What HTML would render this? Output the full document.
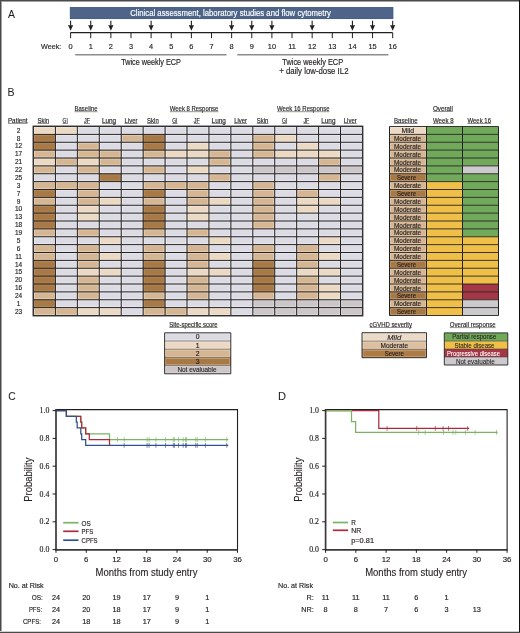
<!DOCTYPE html>
<html><head><meta charset="utf-8"><style>
html,body{margin:0;padding:0;background:#fff;}
body{width:520px;height:633px;overflow:hidden;}
svg{display:block;will-change:transform;}
text{font-family:"Liberation Sans", sans-serif;}
</style></head><body>
<svg width="520" height="633" viewBox="0 0 520 633" font-family='"Liberation Sans", sans-serif'>
<rect x="0" y="0" width="520" height="633" fill="#ffffff"/>
<text x="8.00" y="18.10" font-size="11.6" fill="#231f20" stroke="#231f20" stroke-width="0.05" textLength="7.00" lengthAdjust="spacingAndGlyphs" >A</text>
<rect x="70.30" y="7.60" width="322.60" height="11.00" fill="#4e6589" stroke="#3a5480" stroke-width="0.9" />
<text x="130.20" y="15.90" font-size="8.4" fill="#ffffff" stroke="#ffffff" stroke-width="0.16" textLength="200.80" lengthAdjust="spacingAndGlyphs" >Clinical assessment, laboratory studies and flow cytometry</text>
<line x1="70.50" y1="32.60" x2="392.60" y2="32.60" stroke="#231f20" stroke-width="1.3" />
<line x1="70.60" y1="32.60" x2="70.60" y2="38.20" stroke="#231f20" stroke-width="1.0" />
<line x1="90.73" y1="32.60" x2="90.73" y2="38.20" stroke="#231f20" stroke-width="1.0" />
<line x1="110.86" y1="32.60" x2="110.86" y2="38.20" stroke="#231f20" stroke-width="1.0" />
<line x1="130.99" y1="32.60" x2="130.99" y2="38.20" stroke="#231f20" stroke-width="1.0" />
<line x1="151.12" y1="32.60" x2="151.12" y2="38.20" stroke="#231f20" stroke-width="1.0" />
<line x1="171.25" y1="32.60" x2="171.25" y2="38.20" stroke="#231f20" stroke-width="1.0" />
<line x1="191.38" y1="32.60" x2="191.38" y2="38.20" stroke="#231f20" stroke-width="1.0" />
<line x1="211.51" y1="32.60" x2="211.51" y2="38.20" stroke="#231f20" stroke-width="1.0" />
<line x1="231.64" y1="32.60" x2="231.64" y2="38.20" stroke="#231f20" stroke-width="1.0" />
<line x1="251.77" y1="32.60" x2="251.77" y2="38.20" stroke="#231f20" stroke-width="1.0" />
<line x1="271.90" y1="32.60" x2="271.90" y2="38.20" stroke="#231f20" stroke-width="1.0" />
<line x1="292.03" y1="32.60" x2="292.03" y2="38.20" stroke="#231f20" stroke-width="1.0" />
<line x1="312.16" y1="32.60" x2="312.16" y2="38.20" stroke="#231f20" stroke-width="1.0" />
<line x1="332.29" y1="32.60" x2="332.29" y2="38.20" stroke="#231f20" stroke-width="1.0" />
<line x1="352.42" y1="32.60" x2="352.42" y2="38.20" stroke="#231f20" stroke-width="1.0" />
<line x1="372.55" y1="32.60" x2="372.55" y2="38.20" stroke="#231f20" stroke-width="1.0" />
<line x1="392.68" y1="32.60" x2="392.68" y2="38.20" stroke="#231f20" stroke-width="1.0" />
<line x1="70.60" y1="20.80" x2="70.60" y2="27.00" stroke="#231f20" stroke-width="1.1" />
<path d="M68.00,24.9 L70.60,25.6 L73.20,24.9 L70.60,30.7 Z" fill="#231f20"/>
<line x1="90.73" y1="20.80" x2="90.73" y2="27.00" stroke="#231f20" stroke-width="1.1" />
<path d="M88.13,24.9 L90.73,25.6 L93.33,24.9 L90.73,30.7 Z" fill="#231f20"/>
<line x1="110.86" y1="20.80" x2="110.86" y2="27.00" stroke="#231f20" stroke-width="1.1" />
<path d="M108.26,24.9 L110.86,25.6 L113.46,24.9 L110.86,30.7 Z" fill="#231f20"/>
<line x1="151.12" y1="20.80" x2="151.12" y2="27.00" stroke="#231f20" stroke-width="1.1" />
<path d="M148.52,24.9 L151.12,25.6 L153.72,24.9 L151.12,30.7 Z" fill="#231f20"/>
<line x1="191.38" y1="20.80" x2="191.38" y2="27.00" stroke="#231f20" stroke-width="1.1" />
<path d="M188.78,24.9 L191.38,25.6 L193.98,24.9 L191.38,30.7 Z" fill="#231f20"/>
<line x1="231.64" y1="20.80" x2="231.64" y2="27.00" stroke="#231f20" stroke-width="1.1" />
<path d="M229.04,24.9 L231.64,25.6 L234.24,24.9 L231.64,30.7 Z" fill="#231f20"/>
<line x1="251.77" y1="20.80" x2="251.77" y2="27.00" stroke="#231f20" stroke-width="1.1" />
<path d="M249.17,24.9 L251.77,25.6 L254.37,24.9 L251.77,30.7 Z" fill="#231f20"/>
<line x1="271.90" y1="20.80" x2="271.90" y2="27.00" stroke="#231f20" stroke-width="1.1" />
<path d="M269.30,24.9 L271.90,25.6 L274.50,24.9 L271.90,30.7 Z" fill="#231f20"/>
<line x1="312.16" y1="20.80" x2="312.16" y2="27.00" stroke="#231f20" stroke-width="1.1" />
<path d="M309.56,24.9 L312.16,25.6 L314.76,24.9 L312.16,30.7 Z" fill="#231f20"/>
<line x1="352.42" y1="20.80" x2="352.42" y2="27.00" stroke="#231f20" stroke-width="1.1" />
<path d="M349.82,24.9 L352.42,25.6 L355.02,24.9 L352.42,30.7 Z" fill="#231f20"/>
<line x1="372.55" y1="20.80" x2="372.55" y2="27.00" stroke="#231f20" stroke-width="1.1" />
<path d="M369.95,24.9 L372.55,25.6 L375.15,24.9 L372.55,30.7 Z" fill="#231f20"/>
<line x1="392.68" y1="20.80" x2="392.68" y2="27.00" stroke="#231f20" stroke-width="1.1" />
<path d="M390.08,24.9 L392.68,25.6 L395.28,24.9 L392.68,30.7 Z" fill="#231f20"/>
<text x="41.00" y="48.50" font-size="7.4" fill="#231f20" stroke="#231f20" stroke-width="0.16" textLength="20.30" lengthAdjust="spacingAndGlyphs" >Week:</text>
<text x="70.60" y="48.60" font-size="7.4" fill="#231f20" stroke="#231f20" stroke-width="0.16" text-anchor="middle" >0</text>
<text x="90.73" y="48.60" font-size="7.4" fill="#231f20" stroke="#231f20" stroke-width="0.16" text-anchor="middle" >1</text>
<text x="110.86" y="48.60" font-size="7.4" fill="#231f20" stroke="#231f20" stroke-width="0.16" text-anchor="middle" >2</text>
<text x="130.99" y="48.60" font-size="7.4" fill="#231f20" stroke="#231f20" stroke-width="0.16" text-anchor="middle" >3</text>
<text x="151.12" y="48.60" font-size="7.4" fill="#231f20" stroke="#231f20" stroke-width="0.16" text-anchor="middle" >4</text>
<text x="171.25" y="48.60" font-size="7.4" fill="#231f20" stroke="#231f20" stroke-width="0.16" text-anchor="middle" >5</text>
<text x="191.38" y="48.60" font-size="7.4" fill="#231f20" stroke="#231f20" stroke-width="0.16" text-anchor="middle" >6</text>
<text x="211.51" y="48.60" font-size="7.4" fill="#231f20" stroke="#231f20" stroke-width="0.16" text-anchor="middle" >7</text>
<text x="231.64" y="48.60" font-size="7.4" fill="#231f20" stroke="#231f20" stroke-width="0.16" text-anchor="middle" >8</text>
<text x="251.77" y="48.60" font-size="7.4" fill="#231f20" stroke="#231f20" stroke-width="0.16" text-anchor="middle" >9</text>
<text x="271.90" y="48.60" font-size="7.4" fill="#231f20" stroke="#231f20" stroke-width="0.16" text-anchor="middle" >10</text>
<text x="292.03" y="48.60" font-size="7.4" fill="#231f20" stroke="#231f20" stroke-width="0.16" text-anchor="middle" >11</text>
<text x="312.16" y="48.60" font-size="7.4" fill="#231f20" stroke="#231f20" stroke-width="0.16" text-anchor="middle" >12</text>
<text x="332.29" y="48.60" font-size="7.4" fill="#231f20" stroke="#231f20" stroke-width="0.16" text-anchor="middle" >13</text>
<text x="352.42" y="48.60" font-size="7.4" fill="#231f20" stroke="#231f20" stroke-width="0.16" text-anchor="middle" >14</text>
<text x="372.55" y="48.60" font-size="7.4" fill="#231f20" stroke="#231f20" stroke-width="0.16" text-anchor="middle" >15</text>
<text x="392.68" y="48.60" font-size="7.4" fill="#231f20" stroke="#231f20" stroke-width="0.16" text-anchor="middle" >16</text>
<line x1="75.20" y1="54.80" x2="226.50" y2="54.80" stroke="#8c8c8c" stroke-width="1.5" />
<line x1="237.30" y1="54.80" x2="388.40" y2="54.80" stroke="#8c8c8c" stroke-width="1.5" />
<text x="121.20" y="65.30" font-size="8.2" fill="#231f20" stroke="#231f20" stroke-width="0.16" textLength="59.70" lengthAdjust="spacingAndGlyphs" >Twice weekly ECP</text>
<text x="282.30" y="65.40" font-size="8.2" fill="#231f20" stroke="#231f20" stroke-width="0.16" textLength="60.80" lengthAdjust="spacingAndGlyphs" >Twice weekly ECP</text>
<text x="279.20" y="74.20" font-size="8.2" fill="#231f20" stroke="#231f20" stroke-width="0.16" textLength="69.30" lengthAdjust="spacingAndGlyphs" >+ daily low-dose IL2</text>
<text x="7.60" y="96.00" font-size="11.6" fill="#231f20" stroke="#231f20" stroke-width="0.05" textLength="7.00" lengthAdjust="spacingAndGlyphs" >B</text>
<text x="74.50" y="111.20" font-size="7.0" fill="#231f20" stroke="#231f20" stroke-width="0.16" textLength="23.00" lengthAdjust="spacingAndGlyphs" >Baseline</text>
<line x1="74.50" y1="111.70" x2="97.50" y2="111.70" stroke="#4a4a4a" stroke-width="0.6" />
<text x="169.80" y="111.20" font-size="7.0" fill="#231f20" stroke="#231f20" stroke-width="0.16" textLength="48.50" lengthAdjust="spacingAndGlyphs" >Week 8 Response</text>
<line x1="169.80" y1="111.70" x2="218.30" y2="111.70" stroke="#4a4a4a" stroke-width="0.6" />
<text x="277.00" y="111.20" font-size="7.0" fill="#231f20" stroke="#231f20" stroke-width="0.16" textLength="52.50" lengthAdjust="spacingAndGlyphs" >Week 16 Response</text>
<line x1="277.00" y1="111.70" x2="329.50" y2="111.70" stroke="#4a4a4a" stroke-width="0.6" />
<text x="7.90" y="122.90" font-size="7.0" fill="#231f20" stroke="#231f20" stroke-width="0.16" textLength="19.70" lengthAdjust="spacingAndGlyphs" >Patient</text>
<line x1="7.90" y1="123.40" x2="27.60" y2="123.40" stroke="#4a4a4a" stroke-width="0.6" />
<text x="37.47" y="123.00" font-size="7.0" fill="#231f20" stroke="#231f20" stroke-width="0.16" textLength="11.60" lengthAdjust="spacingAndGlyphs" >Skin</text>
<line x1="37.47" y1="123.50" x2="49.07" y2="123.50" stroke="#4a4a4a" stroke-width="0.6" />
<text x="62.59" y="123.00" font-size="7.0" fill="#231f20" stroke="#231f20" stroke-width="0.16" textLength="5.20" lengthAdjust="spacingAndGlyphs" >GI</text>
<line x1="62.59" y1="123.50" x2="67.79" y2="123.50" stroke="#4a4a4a" stroke-width="0.6" />
<text x="84.12" y="123.00" font-size="7.0" fill="#231f20" stroke="#231f20" stroke-width="0.16" textLength="6.00" lengthAdjust="spacingAndGlyphs" >JF</text>
<line x1="84.12" y1="123.50" x2="90.12" y2="123.50" stroke="#4a4a4a" stroke-width="0.6" />
<text x="101.95" y="123.00" font-size="7.0" fill="#231f20" stroke="#231f20" stroke-width="0.16" textLength="14.20" lengthAdjust="spacingAndGlyphs" >Lung</text>
<line x1="101.95" y1="123.50" x2="116.16" y2="123.50" stroke="#4a4a4a" stroke-width="0.6" />
<text x="124.49" y="123.00" font-size="7.0" fill="#231f20" stroke="#231f20" stroke-width="0.16" textLength="13.00" lengthAdjust="spacingAndGlyphs" >Liver</text>
<line x1="124.49" y1="123.50" x2="137.49" y2="123.50" stroke="#4a4a4a" stroke-width="0.6" />
<text x="147.12" y="123.00" font-size="7.0" fill="#231f20" stroke="#231f20" stroke-width="0.16" textLength="11.60" lengthAdjust="spacingAndGlyphs" >Skin</text>
<line x1="147.12" y1="123.50" x2="158.72" y2="123.50" stroke="#4a4a4a" stroke-width="0.6" />
<text x="172.25" y="123.00" font-size="7.0" fill="#231f20" stroke="#231f20" stroke-width="0.16" textLength="5.20" lengthAdjust="spacingAndGlyphs" >GI</text>
<line x1="172.25" y1="123.50" x2="177.44" y2="123.50" stroke="#4a4a4a" stroke-width="0.6" />
<text x="193.78" y="123.00" font-size="7.0" fill="#231f20" stroke="#231f20" stroke-width="0.16" textLength="6.00" lengthAdjust="spacingAndGlyphs" >JF</text>
<line x1="193.78" y1="123.50" x2="199.78" y2="123.50" stroke="#4a4a4a" stroke-width="0.6" />
<text x="211.61" y="123.00" font-size="7.0" fill="#231f20" stroke="#231f20" stroke-width="0.16" textLength="14.20" lengthAdjust="spacingAndGlyphs" >Lung</text>
<line x1="211.61" y1="123.50" x2="225.81" y2="123.50" stroke="#4a4a4a" stroke-width="0.6" />
<text x="234.14" y="123.00" font-size="7.0" fill="#231f20" stroke="#231f20" stroke-width="0.16" textLength="13.00" lengthAdjust="spacingAndGlyphs" >Liver</text>
<line x1="234.14" y1="123.50" x2="247.14" y2="123.50" stroke="#4a4a4a" stroke-width="0.6" />
<text x="256.76" y="123.00" font-size="7.0" fill="#231f20" stroke="#231f20" stroke-width="0.16" textLength="11.60" lengthAdjust="spacingAndGlyphs" >Skin</text>
<line x1="256.76" y1="123.50" x2="268.37" y2="123.50" stroke="#4a4a4a" stroke-width="0.6" />
<text x="281.89" y="123.00" font-size="7.0" fill="#231f20" stroke="#231f20" stroke-width="0.16" textLength="5.20" lengthAdjust="spacingAndGlyphs" >GI</text>
<line x1="281.89" y1="123.50" x2="287.09" y2="123.50" stroke="#4a4a4a" stroke-width="0.6" />
<text x="303.42" y="123.00" font-size="7.0" fill="#231f20" stroke="#231f20" stroke-width="0.16" textLength="6.00" lengthAdjust="spacingAndGlyphs" >JF</text>
<line x1="303.42" y1="123.50" x2="309.42" y2="123.50" stroke="#4a4a4a" stroke-width="0.6" />
<text x="321.25" y="123.00" font-size="7.0" fill="#231f20" stroke="#231f20" stroke-width="0.16" textLength="14.20" lengthAdjust="spacingAndGlyphs" >Lung</text>
<line x1="321.25" y1="123.50" x2="335.45" y2="123.50" stroke="#4a4a4a" stroke-width="0.6" />
<text x="343.78" y="123.00" font-size="7.0" fill="#231f20" stroke="#231f20" stroke-width="0.16" textLength="13.00" lengthAdjust="spacingAndGlyphs" >Liver</text>
<line x1="343.78" y1="123.50" x2="356.78" y2="123.50" stroke="#4a4a4a" stroke-width="0.6" />
<rect x="33.50" y="126.50" width="21.93" height="7.88" fill="#ecd9c3" />
<rect x="34.60" y="127.50" width="19.73" height="5.88" fill="none" stroke="#ffffff" stroke-opacity="0.35" stroke-width="0.8"/>
<rect x="55.43" y="126.50" width="21.93" height="7.88" fill="#ecd9c3" />
<rect x="56.53" y="127.50" width="19.73" height="5.88" fill="none" stroke="#ffffff" stroke-opacity="0.35" stroke-width="0.8"/>
<rect x="77.36" y="126.50" width="21.93" height="7.88" fill="#dcdbe4" />
<rect x="78.46" y="127.50" width="19.73" height="5.88" fill="none" stroke="#ffffff" stroke-opacity="0.35" stroke-width="0.8"/>
<rect x="99.29" y="126.50" width="21.93" height="7.88" fill="#dcdbe4" />
<rect x="100.39" y="127.50" width="19.73" height="5.88" fill="none" stroke="#ffffff" stroke-opacity="0.35" stroke-width="0.8"/>
<rect x="121.22" y="126.50" width="21.93" height="7.88" fill="#dcdbe4" />
<rect x="122.32" y="127.50" width="19.73" height="5.88" fill="none" stroke="#ffffff" stroke-opacity="0.35" stroke-width="0.8"/>
<rect x="143.15" y="126.50" width="21.93" height="7.88" fill="#dcdbe4" />
<rect x="144.25" y="127.50" width="19.73" height="5.88" fill="none" stroke="#ffffff" stroke-opacity="0.35" stroke-width="0.8"/>
<rect x="165.08" y="126.50" width="21.93" height="7.88" fill="#dcdbe4" />
<rect x="166.18" y="127.50" width="19.73" height="5.88" fill="none" stroke="#ffffff" stroke-opacity="0.35" stroke-width="0.8"/>
<rect x="187.01" y="126.50" width="21.93" height="7.88" fill="#dcdbe4" />
<rect x="188.11" y="127.50" width="19.73" height="5.88" fill="none" stroke="#ffffff" stroke-opacity="0.35" stroke-width="0.8"/>
<rect x="208.94" y="126.50" width="21.93" height="7.88" fill="#dcdbe4" />
<rect x="210.04" y="127.50" width="19.73" height="5.88" fill="none" stroke="#ffffff" stroke-opacity="0.35" stroke-width="0.8"/>
<rect x="230.87" y="126.50" width="21.93" height="7.88" fill="#dcdbe4" />
<rect x="231.97" y="127.50" width="19.73" height="5.88" fill="none" stroke="#ffffff" stroke-opacity="0.35" stroke-width="0.8"/>
<rect x="252.80" y="126.50" width="21.93" height="7.88" fill="#dcdbe4" />
<rect x="253.90" y="127.50" width="19.73" height="5.88" fill="none" stroke="#ffffff" stroke-opacity="0.35" stroke-width="0.8"/>
<rect x="274.73" y="126.50" width="21.93" height="7.88" fill="#dcdbe4" />
<rect x="275.83" y="127.50" width="19.73" height="5.88" fill="none" stroke="#ffffff" stroke-opacity="0.35" stroke-width="0.8"/>
<rect x="296.66" y="126.50" width="21.93" height="7.88" fill="#dcdbe4" />
<rect x="297.76" y="127.50" width="19.73" height="5.88" fill="none" stroke="#ffffff" stroke-opacity="0.35" stroke-width="0.8"/>
<rect x="318.59" y="126.50" width="21.93" height="7.88" fill="#dcdbe4" />
<rect x="319.69" y="127.50" width="19.73" height="5.88" fill="none" stroke="#ffffff" stroke-opacity="0.35" stroke-width="0.8"/>
<rect x="340.52" y="126.50" width="21.93" height="7.88" fill="#dcdbe4" />
<rect x="341.62" y="127.50" width="19.73" height="5.88" fill="none" stroke="#ffffff" stroke-opacity="0.35" stroke-width="0.8"/>
<text x="18.60" y="132.70" font-size="6.5" fill="#231f20" stroke="#231f20" stroke-width="0.16" text-anchor="middle" >2</text>
<rect x="33.50" y="134.38" width="21.93" height="7.88" fill="#a97945" />
<rect x="34.60" y="135.38" width="19.73" height="5.88" fill="none" stroke="#ffffff" stroke-opacity="0.12" stroke-width="0.8"/>
<rect x="55.43" y="134.38" width="21.93" height="7.88" fill="#dcdbe4" />
<rect x="56.53" y="135.38" width="19.73" height="5.88" fill="none" stroke="#ffffff" stroke-opacity="0.35" stroke-width="0.8"/>
<rect x="77.36" y="134.38" width="21.93" height="7.88" fill="#dcdbe4" />
<rect x="78.46" y="135.38" width="19.73" height="5.88" fill="none" stroke="#ffffff" stroke-opacity="0.35" stroke-width="0.8"/>
<rect x="99.29" y="134.38" width="21.93" height="7.88" fill="#dcdbe4" />
<rect x="100.39" y="135.38" width="19.73" height="5.88" fill="none" stroke="#ffffff" stroke-opacity="0.35" stroke-width="0.8"/>
<rect x="121.22" y="134.38" width="21.93" height="7.88" fill="#d6b692" />
<rect x="122.32" y="135.38" width="19.73" height="5.88" fill="none" stroke="#ffffff" stroke-opacity="0.35" stroke-width="0.8"/>
<rect x="143.15" y="134.38" width="21.93" height="7.88" fill="#a97945" />
<rect x="144.25" y="135.38" width="19.73" height="5.88" fill="none" stroke="#ffffff" stroke-opacity="0.12" stroke-width="0.8"/>
<rect x="165.08" y="134.38" width="21.93" height="7.88" fill="#dcdbe4" />
<rect x="166.18" y="135.38" width="19.73" height="5.88" fill="none" stroke="#ffffff" stroke-opacity="0.35" stroke-width="0.8"/>
<rect x="187.01" y="134.38" width="21.93" height="7.88" fill="#dcdbe4" />
<rect x="188.11" y="135.38" width="19.73" height="5.88" fill="none" stroke="#ffffff" stroke-opacity="0.35" stroke-width="0.8"/>
<rect x="208.94" y="134.38" width="21.93" height="7.88" fill="#dcdbe4" />
<rect x="210.04" y="135.38" width="19.73" height="5.88" fill="none" stroke="#ffffff" stroke-opacity="0.35" stroke-width="0.8"/>
<rect x="230.87" y="134.38" width="21.93" height="7.88" fill="#dcdbe4" />
<rect x="231.97" y="135.38" width="19.73" height="5.88" fill="none" stroke="#ffffff" stroke-opacity="0.35" stroke-width="0.8"/>
<rect x="252.80" y="134.38" width="21.93" height="7.88" fill="#d6b692" />
<rect x="253.90" y="135.38" width="19.73" height="5.88" fill="none" stroke="#ffffff" stroke-opacity="0.35" stroke-width="0.8"/>
<rect x="274.73" y="134.38" width="21.93" height="7.88" fill="#ecd9c3" />
<rect x="275.83" y="135.38" width="19.73" height="5.88" fill="none" stroke="#ffffff" stroke-opacity="0.35" stroke-width="0.8"/>
<rect x="296.66" y="134.38" width="21.93" height="7.88" fill="#dcdbe4" />
<rect x="297.76" y="135.38" width="19.73" height="5.88" fill="none" stroke="#ffffff" stroke-opacity="0.35" stroke-width="0.8"/>
<rect x="318.59" y="134.38" width="21.93" height="7.88" fill="#dcdbe4" />
<rect x="319.69" y="135.38" width="19.73" height="5.88" fill="none" stroke="#ffffff" stroke-opacity="0.35" stroke-width="0.8"/>
<rect x="340.52" y="134.38" width="21.93" height="7.88" fill="#dcdbe4" />
<rect x="341.62" y="135.38" width="19.73" height="5.88" fill="none" stroke="#ffffff" stroke-opacity="0.35" stroke-width="0.8"/>
<text x="18.60" y="140.57" font-size="6.5" fill="#231f20" stroke="#231f20" stroke-width="0.16" text-anchor="middle" >8</text>
<rect x="33.50" y="142.25" width="21.93" height="7.88" fill="#a97945" />
<rect x="34.60" y="143.25" width="19.73" height="5.88" fill="none" stroke="#ffffff" stroke-opacity="0.12" stroke-width="0.8"/>
<rect x="55.43" y="142.25" width="21.93" height="7.88" fill="#dcdbe4" />
<rect x="56.53" y="143.25" width="19.73" height="5.88" fill="none" stroke="#ffffff" stroke-opacity="0.35" stroke-width="0.8"/>
<rect x="77.36" y="142.25" width="21.93" height="7.88" fill="#d6b692" />
<rect x="78.46" y="143.25" width="19.73" height="5.88" fill="none" stroke="#ffffff" stroke-opacity="0.35" stroke-width="0.8"/>
<rect x="99.29" y="142.25" width="21.93" height="7.88" fill="#dcdbe4" />
<rect x="100.39" y="143.25" width="19.73" height="5.88" fill="none" stroke="#ffffff" stroke-opacity="0.35" stroke-width="0.8"/>
<rect x="121.22" y="142.25" width="21.93" height="7.88" fill="#dcdbe4" />
<rect x="122.32" y="143.25" width="19.73" height="5.88" fill="none" stroke="#ffffff" stroke-opacity="0.35" stroke-width="0.8"/>
<rect x="143.15" y="142.25" width="21.93" height="7.88" fill="#a97945" />
<rect x="144.25" y="143.25" width="19.73" height="5.88" fill="none" stroke="#ffffff" stroke-opacity="0.12" stroke-width="0.8"/>
<rect x="165.08" y="142.25" width="21.93" height="7.88" fill="#dcdbe4" />
<rect x="166.18" y="143.25" width="19.73" height="5.88" fill="none" stroke="#ffffff" stroke-opacity="0.35" stroke-width="0.8"/>
<rect x="187.01" y="142.25" width="21.93" height="7.88" fill="#ecd9c3" />
<rect x="188.11" y="143.25" width="19.73" height="5.88" fill="none" stroke="#ffffff" stroke-opacity="0.35" stroke-width="0.8"/>
<rect x="208.94" y="142.25" width="21.93" height="7.88" fill="#dcdbe4" />
<rect x="210.04" y="143.25" width="19.73" height="5.88" fill="none" stroke="#ffffff" stroke-opacity="0.35" stroke-width="0.8"/>
<rect x="230.87" y="142.25" width="21.93" height="7.88" fill="#dcdbe4" />
<rect x="231.97" y="143.25" width="19.73" height="5.88" fill="none" stroke="#ffffff" stroke-opacity="0.35" stroke-width="0.8"/>
<rect x="252.80" y="142.25" width="21.93" height="7.88" fill="#d6b692" />
<rect x="253.90" y="143.25" width="19.73" height="5.88" fill="none" stroke="#ffffff" stroke-opacity="0.35" stroke-width="0.8"/>
<rect x="274.73" y="142.25" width="21.93" height="7.88" fill="#dcdbe4" />
<rect x="275.83" y="143.25" width="19.73" height="5.88" fill="none" stroke="#ffffff" stroke-opacity="0.35" stroke-width="0.8"/>
<rect x="296.66" y="142.25" width="21.93" height="7.88" fill="#ecd9c3" />
<rect x="297.76" y="143.25" width="19.73" height="5.88" fill="none" stroke="#ffffff" stroke-opacity="0.35" stroke-width="0.8"/>
<rect x="318.59" y="142.25" width="21.93" height="7.88" fill="#dcdbe4" />
<rect x="319.69" y="143.25" width="19.73" height="5.88" fill="none" stroke="#ffffff" stroke-opacity="0.35" stroke-width="0.8"/>
<rect x="340.52" y="142.25" width="21.93" height="7.88" fill="#dcdbe4" />
<rect x="341.62" y="143.25" width="19.73" height="5.88" fill="none" stroke="#ffffff" stroke-opacity="0.35" stroke-width="0.8"/>
<text x="18.60" y="148.45" font-size="6.5" fill="#231f20" stroke="#231f20" stroke-width="0.16" text-anchor="middle" >12</text>
<rect x="33.50" y="150.12" width="21.93" height="7.88" fill="#d6b692" />
<rect x="34.60" y="151.12" width="19.73" height="5.88" fill="none" stroke="#ffffff" stroke-opacity="0.35" stroke-width="0.8"/>
<rect x="55.43" y="150.12" width="21.93" height="7.88" fill="#dcdbe4" />
<rect x="56.53" y="151.12" width="19.73" height="5.88" fill="none" stroke="#ffffff" stroke-opacity="0.35" stroke-width="0.8"/>
<rect x="77.36" y="150.12" width="21.93" height="7.88" fill="#d6b692" />
<rect x="78.46" y="151.12" width="19.73" height="5.88" fill="none" stroke="#ffffff" stroke-opacity="0.35" stroke-width="0.8"/>
<rect x="99.29" y="150.12" width="21.93" height="7.88" fill="#d6b692" />
<rect x="100.39" y="151.12" width="19.73" height="5.88" fill="none" stroke="#ffffff" stroke-opacity="0.35" stroke-width="0.8"/>
<rect x="121.22" y="150.12" width="21.93" height="7.88" fill="#dcdbe4" />
<rect x="122.32" y="151.12" width="19.73" height="5.88" fill="none" stroke="#ffffff" stroke-opacity="0.35" stroke-width="0.8"/>
<rect x="143.15" y="150.12" width="21.93" height="7.88" fill="#d6b692" />
<rect x="144.25" y="151.12" width="19.73" height="5.88" fill="none" stroke="#ffffff" stroke-opacity="0.35" stroke-width="0.8"/>
<rect x="165.08" y="150.12" width="21.93" height="7.88" fill="#ecd9c3" />
<rect x="166.18" y="151.12" width="19.73" height="5.88" fill="none" stroke="#ffffff" stroke-opacity="0.35" stroke-width="0.8"/>
<rect x="187.01" y="150.12" width="21.93" height="7.88" fill="#ecd9c3" />
<rect x="188.11" y="151.12" width="19.73" height="5.88" fill="none" stroke="#ffffff" stroke-opacity="0.35" stroke-width="0.8"/>
<rect x="208.94" y="150.12" width="21.93" height="7.88" fill="#d6b692" />
<rect x="210.04" y="151.12" width="19.73" height="5.88" fill="none" stroke="#ffffff" stroke-opacity="0.35" stroke-width="0.8"/>
<rect x="230.87" y="150.12" width="21.93" height="7.88" fill="#dcdbe4" />
<rect x="231.97" y="151.12" width="19.73" height="5.88" fill="none" stroke="#ffffff" stroke-opacity="0.35" stroke-width="0.8"/>
<rect x="252.80" y="150.12" width="21.93" height="7.88" fill="#d6b692" />
<rect x="253.90" y="151.12" width="19.73" height="5.88" fill="none" stroke="#ffffff" stroke-opacity="0.35" stroke-width="0.8"/>
<rect x="274.73" y="150.12" width="21.93" height="7.88" fill="#ecd9c3" />
<rect x="275.83" y="151.12" width="19.73" height="5.88" fill="none" stroke="#ffffff" stroke-opacity="0.35" stroke-width="0.8"/>
<rect x="296.66" y="150.12" width="21.93" height="7.88" fill="#ecd9c3" />
<rect x="297.76" y="151.12" width="19.73" height="5.88" fill="none" stroke="#ffffff" stroke-opacity="0.35" stroke-width="0.8"/>
<rect x="318.59" y="150.12" width="21.93" height="7.88" fill="#ecd9c3" />
<rect x="319.69" y="151.12" width="19.73" height="5.88" fill="none" stroke="#ffffff" stroke-opacity="0.35" stroke-width="0.8"/>
<rect x="340.52" y="150.12" width="21.93" height="7.88" fill="#dcdbe4" />
<rect x="341.62" y="151.12" width="19.73" height="5.88" fill="none" stroke="#ffffff" stroke-opacity="0.35" stroke-width="0.8"/>
<text x="18.60" y="156.32" font-size="6.5" fill="#231f20" stroke="#231f20" stroke-width="0.16" text-anchor="middle" >17</text>
<rect x="33.50" y="158.00" width="21.93" height="7.88" fill="#ecd9c3" />
<rect x="34.60" y="159.00" width="19.73" height="5.88" fill="none" stroke="#ffffff" stroke-opacity="0.35" stroke-width="0.8"/>
<rect x="55.43" y="158.00" width="21.93" height="7.88" fill="#d6b692" />
<rect x="56.53" y="159.00" width="19.73" height="5.88" fill="none" stroke="#ffffff" stroke-opacity="0.35" stroke-width="0.8"/>
<rect x="77.36" y="158.00" width="21.93" height="7.88" fill="#ecd9c3" />
<rect x="78.46" y="159.00" width="19.73" height="5.88" fill="none" stroke="#ffffff" stroke-opacity="0.35" stroke-width="0.8"/>
<rect x="99.29" y="158.00" width="21.93" height="7.88" fill="#d6b692" />
<rect x="100.39" y="159.00" width="19.73" height="5.88" fill="none" stroke="#ffffff" stroke-opacity="0.35" stroke-width="0.8"/>
<rect x="121.22" y="158.00" width="21.93" height="7.88" fill="#dcdbe4" />
<rect x="122.32" y="159.00" width="19.73" height="5.88" fill="none" stroke="#ffffff" stroke-opacity="0.35" stroke-width="0.8"/>
<rect x="143.15" y="158.00" width="21.93" height="7.88" fill="#dcdbe4" />
<rect x="144.25" y="159.00" width="19.73" height="5.88" fill="none" stroke="#ffffff" stroke-opacity="0.35" stroke-width="0.8"/>
<rect x="165.08" y="158.00" width="21.93" height="7.88" fill="#dcdbe4" />
<rect x="166.18" y="159.00" width="19.73" height="5.88" fill="none" stroke="#ffffff" stroke-opacity="0.35" stroke-width="0.8"/>
<rect x="187.01" y="158.00" width="21.93" height="7.88" fill="#dcdbe4" />
<rect x="188.11" y="159.00" width="19.73" height="5.88" fill="none" stroke="#ffffff" stroke-opacity="0.35" stroke-width="0.8"/>
<rect x="208.94" y="158.00" width="21.93" height="7.88" fill="#d6b692" />
<rect x="210.04" y="159.00" width="19.73" height="5.88" fill="none" stroke="#ffffff" stroke-opacity="0.35" stroke-width="0.8"/>
<rect x="230.87" y="158.00" width="21.93" height="7.88" fill="#dcdbe4" />
<rect x="231.97" y="159.00" width="19.73" height="5.88" fill="none" stroke="#ffffff" stroke-opacity="0.35" stroke-width="0.8"/>
<rect x="252.80" y="158.00" width="21.93" height="7.88" fill="#dcdbe4" />
<rect x="253.90" y="159.00" width="19.73" height="5.88" fill="none" stroke="#ffffff" stroke-opacity="0.35" stroke-width="0.8"/>
<rect x="274.73" y="158.00" width="21.93" height="7.88" fill="#dcdbe4" />
<rect x="275.83" y="159.00" width="19.73" height="5.88" fill="none" stroke="#ffffff" stroke-opacity="0.35" stroke-width="0.8"/>
<rect x="296.66" y="158.00" width="21.93" height="7.88" fill="#dcdbe4" />
<rect x="297.76" y="159.00" width="19.73" height="5.88" fill="none" stroke="#ffffff" stroke-opacity="0.35" stroke-width="0.8"/>
<rect x="318.59" y="158.00" width="21.93" height="7.88" fill="#d6b692" />
<rect x="319.69" y="159.00" width="19.73" height="5.88" fill="none" stroke="#ffffff" stroke-opacity="0.35" stroke-width="0.8"/>
<rect x="340.52" y="158.00" width="21.93" height="7.88" fill="#dcdbe4" />
<rect x="341.62" y="159.00" width="19.73" height="5.88" fill="none" stroke="#ffffff" stroke-opacity="0.35" stroke-width="0.8"/>
<text x="18.60" y="164.20" font-size="6.5" fill="#231f20" stroke="#231f20" stroke-width="0.16" text-anchor="middle" >21</text>
<rect x="33.50" y="165.88" width="21.93" height="7.88" fill="#d6b692" />
<rect x="34.60" y="166.88" width="19.73" height="5.88" fill="none" stroke="#ffffff" stroke-opacity="0.35" stroke-width="0.8"/>
<rect x="55.43" y="165.88" width="21.93" height="7.88" fill="#dcdbe4" />
<rect x="56.53" y="166.88" width="19.73" height="5.88" fill="none" stroke="#ffffff" stroke-opacity="0.35" stroke-width="0.8"/>
<rect x="77.36" y="165.88" width="21.93" height="7.88" fill="#d6b692" />
<rect x="78.46" y="166.88" width="19.73" height="5.88" fill="none" stroke="#ffffff" stroke-opacity="0.35" stroke-width="0.8"/>
<rect x="99.29" y="165.88" width="21.93" height="7.88" fill="#dcdbe4" />
<rect x="100.39" y="166.88" width="19.73" height="5.88" fill="none" stroke="#ffffff" stroke-opacity="0.35" stroke-width="0.8"/>
<rect x="121.22" y="165.88" width="21.93" height="7.88" fill="#dcdbe4" />
<rect x="122.32" y="166.88" width="19.73" height="5.88" fill="none" stroke="#ffffff" stroke-opacity="0.35" stroke-width="0.8"/>
<rect x="143.15" y="165.88" width="21.93" height="7.88" fill="#d6b692" />
<rect x="144.25" y="166.88" width="19.73" height="5.88" fill="none" stroke="#ffffff" stroke-opacity="0.35" stroke-width="0.8"/>
<rect x="165.08" y="165.88" width="21.93" height="7.88" fill="#dcdbe4" />
<rect x="166.18" y="166.88" width="19.73" height="5.88" fill="none" stroke="#ffffff" stroke-opacity="0.35" stroke-width="0.8"/>
<rect x="187.01" y="165.88" width="21.93" height="7.88" fill="#ecd9c3" />
<rect x="188.11" y="166.88" width="19.73" height="5.88" fill="none" stroke="#ffffff" stroke-opacity="0.35" stroke-width="0.8"/>
<rect x="208.94" y="165.88" width="21.93" height="7.88" fill="#dcdbe4" />
<rect x="210.04" y="166.88" width="19.73" height="5.88" fill="none" stroke="#ffffff" stroke-opacity="0.35" stroke-width="0.8"/>
<rect x="230.87" y="165.88" width="21.93" height="7.88" fill="#dcdbe4" />
<rect x="231.97" y="166.88" width="19.73" height="5.88" fill="none" stroke="#ffffff" stroke-opacity="0.35" stroke-width="0.8"/>
<rect x="252.80" y="165.88" width="21.93" height="7.88" fill="#ccc6c8" />
<rect x="253.90" y="166.88" width="19.73" height="5.88" fill="none" stroke="#ffffff" stroke-opacity="0.35" stroke-width="0.8"/>
<rect x="274.73" y="165.88" width="21.93" height="7.88" fill="#ccc6c8" />
<rect x="275.83" y="166.88" width="19.73" height="5.88" fill="none" stroke="#ffffff" stroke-opacity="0.35" stroke-width="0.8"/>
<rect x="296.66" y="165.88" width="21.93" height="7.88" fill="#ccc6c8" />
<rect x="297.76" y="166.88" width="19.73" height="5.88" fill="none" stroke="#ffffff" stroke-opacity="0.35" stroke-width="0.8"/>
<rect x="318.59" y="165.88" width="21.93" height="7.88" fill="#ccc6c8" />
<rect x="319.69" y="166.88" width="19.73" height="5.88" fill="none" stroke="#ffffff" stroke-opacity="0.35" stroke-width="0.8"/>
<rect x="340.52" y="165.88" width="21.93" height="7.88" fill="#ccc6c8" />
<rect x="341.62" y="166.88" width="19.73" height="5.88" fill="none" stroke="#ffffff" stroke-opacity="0.35" stroke-width="0.8"/>
<text x="18.60" y="172.07" font-size="6.5" fill="#231f20" stroke="#231f20" stroke-width="0.16" text-anchor="middle" >22</text>
<rect x="33.50" y="173.75" width="21.93" height="7.88" fill="#dcdbe4" />
<rect x="34.60" y="174.75" width="19.73" height="5.88" fill="none" stroke="#ffffff" stroke-opacity="0.35" stroke-width="0.8"/>
<rect x="55.43" y="173.75" width="21.93" height="7.88" fill="#dcdbe4" />
<rect x="56.53" y="174.75" width="19.73" height="5.88" fill="none" stroke="#ffffff" stroke-opacity="0.35" stroke-width="0.8"/>
<rect x="77.36" y="173.75" width="21.93" height="7.88" fill="#dcdbe4" />
<rect x="78.46" y="174.75" width="19.73" height="5.88" fill="none" stroke="#ffffff" stroke-opacity="0.35" stroke-width="0.8"/>
<rect x="99.29" y="173.75" width="21.93" height="7.88" fill="#a97945" />
<rect x="100.39" y="174.75" width="19.73" height="5.88" fill="none" stroke="#ffffff" stroke-opacity="0.12" stroke-width="0.8"/>
<rect x="121.22" y="173.75" width="21.93" height="7.88" fill="#dcdbe4" />
<rect x="122.32" y="174.75" width="19.73" height="5.88" fill="none" stroke="#ffffff" stroke-opacity="0.35" stroke-width="0.8"/>
<rect x="143.15" y="173.75" width="21.93" height="7.88" fill="#dcdbe4" />
<rect x="144.25" y="174.75" width="19.73" height="5.88" fill="none" stroke="#ffffff" stroke-opacity="0.35" stroke-width="0.8"/>
<rect x="165.08" y="173.75" width="21.93" height="7.88" fill="#dcdbe4" />
<rect x="166.18" y="174.75" width="19.73" height="5.88" fill="none" stroke="#ffffff" stroke-opacity="0.35" stroke-width="0.8"/>
<rect x="187.01" y="173.75" width="21.93" height="7.88" fill="#dcdbe4" />
<rect x="188.11" y="174.75" width="19.73" height="5.88" fill="none" stroke="#ffffff" stroke-opacity="0.35" stroke-width="0.8"/>
<rect x="208.94" y="173.75" width="21.93" height="7.88" fill="#d6b692" />
<rect x="210.04" y="174.75" width="19.73" height="5.88" fill="none" stroke="#ffffff" stroke-opacity="0.35" stroke-width="0.8"/>
<rect x="230.87" y="173.75" width="21.93" height="7.88" fill="#dcdbe4" />
<rect x="231.97" y="174.75" width="19.73" height="5.88" fill="none" stroke="#ffffff" stroke-opacity="0.35" stroke-width="0.8"/>
<rect x="252.80" y="173.75" width="21.93" height="7.88" fill="#dcdbe4" />
<rect x="253.90" y="174.75" width="19.73" height="5.88" fill="none" stroke="#ffffff" stroke-opacity="0.35" stroke-width="0.8"/>
<rect x="274.73" y="173.75" width="21.93" height="7.88" fill="#dcdbe4" />
<rect x="275.83" y="174.75" width="19.73" height="5.88" fill="none" stroke="#ffffff" stroke-opacity="0.35" stroke-width="0.8"/>
<rect x="296.66" y="173.75" width="21.93" height="7.88" fill="#dcdbe4" />
<rect x="297.76" y="174.75" width="19.73" height="5.88" fill="none" stroke="#ffffff" stroke-opacity="0.35" stroke-width="0.8"/>
<rect x="318.59" y="173.75" width="21.93" height="7.88" fill="#d6b692" />
<rect x="319.69" y="174.75" width="19.73" height="5.88" fill="none" stroke="#ffffff" stroke-opacity="0.35" stroke-width="0.8"/>
<rect x="340.52" y="173.75" width="21.93" height="7.88" fill="#dcdbe4" />
<rect x="341.62" y="174.75" width="19.73" height="5.88" fill="none" stroke="#ffffff" stroke-opacity="0.35" stroke-width="0.8"/>
<text x="18.60" y="179.95" font-size="6.5" fill="#231f20" stroke="#231f20" stroke-width="0.16" text-anchor="middle" >25</text>
<rect x="33.50" y="181.62" width="21.93" height="7.88" fill="#d6b692" />
<rect x="34.60" y="182.62" width="19.73" height="5.88" fill="none" stroke="#ffffff" stroke-opacity="0.35" stroke-width="0.8"/>
<rect x="55.43" y="181.62" width="21.93" height="7.88" fill="#d6b692" />
<rect x="56.53" y="182.62" width="19.73" height="5.88" fill="none" stroke="#ffffff" stroke-opacity="0.35" stroke-width="0.8"/>
<rect x="77.36" y="181.62" width="21.93" height="7.88" fill="#d6b692" />
<rect x="78.46" y="182.62" width="19.73" height="5.88" fill="none" stroke="#ffffff" stroke-opacity="0.35" stroke-width="0.8"/>
<rect x="99.29" y="181.62" width="21.93" height="7.88" fill="#dcdbe4" />
<rect x="100.39" y="182.62" width="19.73" height="5.88" fill="none" stroke="#ffffff" stroke-opacity="0.35" stroke-width="0.8"/>
<rect x="121.22" y="181.62" width="21.93" height="7.88" fill="#dcdbe4" />
<rect x="122.32" y="182.62" width="19.73" height="5.88" fill="none" stroke="#ffffff" stroke-opacity="0.35" stroke-width="0.8"/>
<rect x="143.15" y="181.62" width="21.93" height="7.88" fill="#d6b692" />
<rect x="144.25" y="182.62" width="19.73" height="5.88" fill="none" stroke="#ffffff" stroke-opacity="0.35" stroke-width="0.8"/>
<rect x="165.08" y="181.62" width="21.93" height="7.88" fill="#d6b692" />
<rect x="166.18" y="182.62" width="19.73" height="5.88" fill="none" stroke="#ffffff" stroke-opacity="0.35" stroke-width="0.8"/>
<rect x="187.01" y="181.62" width="21.93" height="7.88" fill="#d6b692" />
<rect x="188.11" y="182.62" width="19.73" height="5.88" fill="none" stroke="#ffffff" stroke-opacity="0.35" stroke-width="0.8"/>
<rect x="208.94" y="181.62" width="21.93" height="7.88" fill="#dcdbe4" />
<rect x="210.04" y="182.62" width="19.73" height="5.88" fill="none" stroke="#ffffff" stroke-opacity="0.35" stroke-width="0.8"/>
<rect x="230.87" y="181.62" width="21.93" height="7.88" fill="#dcdbe4" />
<rect x="231.97" y="182.62" width="19.73" height="5.88" fill="none" stroke="#ffffff" stroke-opacity="0.35" stroke-width="0.8"/>
<rect x="252.80" y="181.62" width="21.93" height="7.88" fill="#d6b692" />
<rect x="253.90" y="182.62" width="19.73" height="5.88" fill="none" stroke="#ffffff" stroke-opacity="0.35" stroke-width="0.8"/>
<rect x="274.73" y="181.62" width="21.93" height="7.88" fill="#dcdbe4" />
<rect x="275.83" y="182.62" width="19.73" height="5.88" fill="none" stroke="#ffffff" stroke-opacity="0.35" stroke-width="0.8"/>
<rect x="296.66" y="181.62" width="21.93" height="7.88" fill="#dcdbe4" />
<rect x="297.76" y="182.62" width="19.73" height="5.88" fill="none" stroke="#ffffff" stroke-opacity="0.35" stroke-width="0.8"/>
<rect x="318.59" y="181.62" width="21.93" height="7.88" fill="#dcdbe4" />
<rect x="319.69" y="182.62" width="19.73" height="5.88" fill="none" stroke="#ffffff" stroke-opacity="0.35" stroke-width="0.8"/>
<rect x="340.52" y="181.62" width="21.93" height="7.88" fill="#dcdbe4" />
<rect x="341.62" y="182.62" width="19.73" height="5.88" fill="none" stroke="#ffffff" stroke-opacity="0.35" stroke-width="0.8"/>
<text x="18.60" y="187.82" font-size="6.5" fill="#231f20" stroke="#231f20" stroke-width="0.16" text-anchor="middle" >3</text>
<rect x="33.50" y="189.50" width="21.93" height="7.88" fill="#a97945" />
<rect x="34.60" y="190.50" width="19.73" height="5.88" fill="none" stroke="#ffffff" stroke-opacity="0.12" stroke-width="0.8"/>
<rect x="55.43" y="189.50" width="21.93" height="7.88" fill="#dcdbe4" />
<rect x="56.53" y="190.50" width="19.73" height="5.88" fill="none" stroke="#ffffff" stroke-opacity="0.35" stroke-width="0.8"/>
<rect x="77.36" y="189.50" width="21.93" height="7.88" fill="#d6b692" />
<rect x="78.46" y="190.50" width="19.73" height="5.88" fill="none" stroke="#ffffff" stroke-opacity="0.35" stroke-width="0.8"/>
<rect x="99.29" y="189.50" width="21.93" height="7.88" fill="#dcdbe4" />
<rect x="100.39" y="190.50" width="19.73" height="5.88" fill="none" stroke="#ffffff" stroke-opacity="0.35" stroke-width="0.8"/>
<rect x="121.22" y="189.50" width="21.93" height="7.88" fill="#dcdbe4" />
<rect x="122.32" y="190.50" width="19.73" height="5.88" fill="none" stroke="#ffffff" stroke-opacity="0.35" stroke-width="0.8"/>
<rect x="143.15" y="189.50" width="21.93" height="7.88" fill="#a97945" />
<rect x="144.25" y="190.50" width="19.73" height="5.88" fill="none" stroke="#ffffff" stroke-opacity="0.12" stroke-width="0.8"/>
<rect x="165.08" y="189.50" width="21.93" height="7.88" fill="#dcdbe4" />
<rect x="166.18" y="190.50" width="19.73" height="5.88" fill="none" stroke="#ffffff" stroke-opacity="0.35" stroke-width="0.8"/>
<rect x="187.01" y="189.50" width="21.93" height="7.88" fill="#d6b692" />
<rect x="188.11" y="190.50" width="19.73" height="5.88" fill="none" stroke="#ffffff" stroke-opacity="0.35" stroke-width="0.8"/>
<rect x="208.94" y="189.50" width="21.93" height="7.88" fill="#dcdbe4" />
<rect x="210.04" y="190.50" width="19.73" height="5.88" fill="none" stroke="#ffffff" stroke-opacity="0.35" stroke-width="0.8"/>
<rect x="230.87" y="189.50" width="21.93" height="7.88" fill="#dcdbe4" />
<rect x="231.97" y="190.50" width="19.73" height="5.88" fill="none" stroke="#ffffff" stroke-opacity="0.35" stroke-width="0.8"/>
<rect x="252.80" y="189.50" width="21.93" height="7.88" fill="#d6b692" />
<rect x="253.90" y="190.50" width="19.73" height="5.88" fill="none" stroke="#ffffff" stroke-opacity="0.35" stroke-width="0.8"/>
<rect x="274.73" y="189.50" width="21.93" height="7.88" fill="#dcdbe4" />
<rect x="275.83" y="190.50" width="19.73" height="5.88" fill="none" stroke="#ffffff" stroke-opacity="0.35" stroke-width="0.8"/>
<rect x="296.66" y="189.50" width="21.93" height="7.88" fill="#d6b692" />
<rect x="297.76" y="190.50" width="19.73" height="5.88" fill="none" stroke="#ffffff" stroke-opacity="0.35" stroke-width="0.8"/>
<rect x="318.59" y="189.50" width="21.93" height="7.88" fill="#dcdbe4" />
<rect x="319.69" y="190.50" width="19.73" height="5.88" fill="none" stroke="#ffffff" stroke-opacity="0.35" stroke-width="0.8"/>
<rect x="340.52" y="189.50" width="21.93" height="7.88" fill="#dcdbe4" />
<rect x="341.62" y="190.50" width="19.73" height="5.88" fill="none" stroke="#ffffff" stroke-opacity="0.35" stroke-width="0.8"/>
<text x="18.60" y="195.70" font-size="6.5" fill="#231f20" stroke="#231f20" stroke-width="0.16" text-anchor="middle" >7</text>
<rect x="33.50" y="197.38" width="21.93" height="7.88" fill="#d6b692" />
<rect x="34.60" y="198.38" width="19.73" height="5.88" fill="none" stroke="#ffffff" stroke-opacity="0.35" stroke-width="0.8"/>
<rect x="55.43" y="197.38" width="21.93" height="7.88" fill="#dcdbe4" />
<rect x="56.53" y="198.38" width="19.73" height="5.88" fill="none" stroke="#ffffff" stroke-opacity="0.35" stroke-width="0.8"/>
<rect x="77.36" y="197.38" width="21.93" height="7.88" fill="#d6b692" />
<rect x="78.46" y="198.38" width="19.73" height="5.88" fill="none" stroke="#ffffff" stroke-opacity="0.35" stroke-width="0.8"/>
<rect x="99.29" y="197.38" width="21.93" height="7.88" fill="#ecd9c3" />
<rect x="100.39" y="198.38" width="19.73" height="5.88" fill="none" stroke="#ffffff" stroke-opacity="0.35" stroke-width="0.8"/>
<rect x="121.22" y="197.38" width="21.93" height="7.88" fill="#dcdbe4" />
<rect x="122.32" y="198.38" width="19.73" height="5.88" fill="none" stroke="#ffffff" stroke-opacity="0.35" stroke-width="0.8"/>
<rect x="143.15" y="197.38" width="21.93" height="7.88" fill="#d6b692" />
<rect x="144.25" y="198.38" width="19.73" height="5.88" fill="none" stroke="#ffffff" stroke-opacity="0.35" stroke-width="0.8"/>
<rect x="165.08" y="197.38" width="21.93" height="7.88" fill="#dcdbe4" />
<rect x="166.18" y="198.38" width="19.73" height="5.88" fill="none" stroke="#ffffff" stroke-opacity="0.35" stroke-width="0.8"/>
<rect x="187.01" y="197.38" width="21.93" height="7.88" fill="#d6b692" />
<rect x="188.11" y="198.38" width="19.73" height="5.88" fill="none" stroke="#ffffff" stroke-opacity="0.35" stroke-width="0.8"/>
<rect x="208.94" y="197.38" width="21.93" height="7.88" fill="#ecd9c3" />
<rect x="210.04" y="198.38" width="19.73" height="5.88" fill="none" stroke="#ffffff" stroke-opacity="0.35" stroke-width="0.8"/>
<rect x="230.87" y="197.38" width="21.93" height="7.88" fill="#dcdbe4" />
<rect x="231.97" y="198.38" width="19.73" height="5.88" fill="none" stroke="#ffffff" stroke-opacity="0.35" stroke-width="0.8"/>
<rect x="252.80" y="197.38" width="21.93" height="7.88" fill="#d6b692" />
<rect x="253.90" y="198.38" width="19.73" height="5.88" fill="none" stroke="#ffffff" stroke-opacity="0.35" stroke-width="0.8"/>
<rect x="274.73" y="197.38" width="21.93" height="7.88" fill="#dcdbe4" />
<rect x="275.83" y="198.38" width="19.73" height="5.88" fill="none" stroke="#ffffff" stroke-opacity="0.35" stroke-width="0.8"/>
<rect x="296.66" y="197.38" width="21.93" height="7.88" fill="#ecd9c3" />
<rect x="297.76" y="198.38" width="19.73" height="5.88" fill="none" stroke="#ffffff" stroke-opacity="0.35" stroke-width="0.8"/>
<rect x="318.59" y="197.38" width="21.93" height="7.88" fill="#ecd9c3" />
<rect x="319.69" y="198.38" width="19.73" height="5.88" fill="none" stroke="#ffffff" stroke-opacity="0.35" stroke-width="0.8"/>
<rect x="340.52" y="197.38" width="21.93" height="7.88" fill="#dcdbe4" />
<rect x="341.62" y="198.38" width="19.73" height="5.88" fill="none" stroke="#ffffff" stroke-opacity="0.35" stroke-width="0.8"/>
<text x="18.60" y="203.57" font-size="6.5" fill="#231f20" stroke="#231f20" stroke-width="0.16" text-anchor="middle" >9</text>
<rect x="33.50" y="205.25" width="21.93" height="7.88" fill="#a97945" />
<rect x="34.60" y="206.25" width="19.73" height="5.88" fill="none" stroke="#ffffff" stroke-opacity="0.12" stroke-width="0.8"/>
<rect x="55.43" y="205.25" width="21.93" height="7.88" fill="#dcdbe4" />
<rect x="56.53" y="206.25" width="19.73" height="5.88" fill="none" stroke="#ffffff" stroke-opacity="0.35" stroke-width="0.8"/>
<rect x="77.36" y="205.25" width="21.93" height="7.88" fill="#ecd9c3" />
<rect x="78.46" y="206.25" width="19.73" height="5.88" fill="none" stroke="#ffffff" stroke-opacity="0.35" stroke-width="0.8"/>
<rect x="99.29" y="205.25" width="21.93" height="7.88" fill="#dcdbe4" />
<rect x="100.39" y="206.25" width="19.73" height="5.88" fill="none" stroke="#ffffff" stroke-opacity="0.35" stroke-width="0.8"/>
<rect x="121.22" y="205.25" width="21.93" height="7.88" fill="#dcdbe4" />
<rect x="122.32" y="206.25" width="19.73" height="5.88" fill="none" stroke="#ffffff" stroke-opacity="0.35" stroke-width="0.8"/>
<rect x="143.15" y="205.25" width="21.93" height="7.88" fill="#a97945" />
<rect x="144.25" y="206.25" width="19.73" height="5.88" fill="none" stroke="#ffffff" stroke-opacity="0.12" stroke-width="0.8"/>
<rect x="165.08" y="205.25" width="21.93" height="7.88" fill="#dcdbe4" />
<rect x="166.18" y="206.25" width="19.73" height="5.88" fill="none" stroke="#ffffff" stroke-opacity="0.35" stroke-width="0.8"/>
<rect x="187.01" y="205.25" width="21.93" height="7.88" fill="#ecd9c3" />
<rect x="188.11" y="206.25" width="19.73" height="5.88" fill="none" stroke="#ffffff" stroke-opacity="0.35" stroke-width="0.8"/>
<rect x="208.94" y="205.25" width="21.93" height="7.88" fill="#dcdbe4" />
<rect x="210.04" y="206.25" width="19.73" height="5.88" fill="none" stroke="#ffffff" stroke-opacity="0.35" stroke-width="0.8"/>
<rect x="230.87" y="205.25" width="21.93" height="7.88" fill="#dcdbe4" />
<rect x="231.97" y="206.25" width="19.73" height="5.88" fill="none" stroke="#ffffff" stroke-opacity="0.35" stroke-width="0.8"/>
<rect x="252.80" y="205.25" width="21.93" height="7.88" fill="#d6b692" />
<rect x="253.90" y="206.25" width="19.73" height="5.88" fill="none" stroke="#ffffff" stroke-opacity="0.35" stroke-width="0.8"/>
<rect x="274.73" y="205.25" width="21.93" height="7.88" fill="#dcdbe4" />
<rect x="275.83" y="206.25" width="19.73" height="5.88" fill="none" stroke="#ffffff" stroke-opacity="0.35" stroke-width="0.8"/>
<rect x="296.66" y="205.25" width="21.93" height="7.88" fill="#ecd9c3" />
<rect x="297.76" y="206.25" width="19.73" height="5.88" fill="none" stroke="#ffffff" stroke-opacity="0.35" stroke-width="0.8"/>
<rect x="318.59" y="205.25" width="21.93" height="7.88" fill="#dcdbe4" />
<rect x="319.69" y="206.25" width="19.73" height="5.88" fill="none" stroke="#ffffff" stroke-opacity="0.35" stroke-width="0.8"/>
<rect x="340.52" y="205.25" width="21.93" height="7.88" fill="#dcdbe4" />
<rect x="341.62" y="206.25" width="19.73" height="5.88" fill="none" stroke="#ffffff" stroke-opacity="0.35" stroke-width="0.8"/>
<text x="18.60" y="211.45" font-size="6.5" fill="#231f20" stroke="#231f20" stroke-width="0.16" text-anchor="middle" >10</text>
<rect x="33.50" y="213.12" width="21.93" height="7.88" fill="#a97945" />
<rect x="34.60" y="214.12" width="19.73" height="5.88" fill="none" stroke="#ffffff" stroke-opacity="0.12" stroke-width="0.8"/>
<rect x="55.43" y="213.12" width="21.93" height="7.88" fill="#dcdbe4" />
<rect x="56.53" y="214.12" width="19.73" height="5.88" fill="none" stroke="#ffffff" stroke-opacity="0.35" stroke-width="0.8"/>
<rect x="77.36" y="213.12" width="21.93" height="7.88" fill="#ecd9c3" />
<rect x="78.46" y="214.12" width="19.73" height="5.88" fill="none" stroke="#ffffff" stroke-opacity="0.35" stroke-width="0.8"/>
<rect x="99.29" y="213.12" width="21.93" height="7.88" fill="#dcdbe4" />
<rect x="100.39" y="214.12" width="19.73" height="5.88" fill="none" stroke="#ffffff" stroke-opacity="0.35" stroke-width="0.8"/>
<rect x="121.22" y="213.12" width="21.93" height="7.88" fill="#dcdbe4" />
<rect x="122.32" y="214.12" width="19.73" height="5.88" fill="none" stroke="#ffffff" stroke-opacity="0.35" stroke-width="0.8"/>
<rect x="143.15" y="213.12" width="21.93" height="7.88" fill="#a97945" />
<rect x="144.25" y="214.12" width="19.73" height="5.88" fill="none" stroke="#ffffff" stroke-opacity="0.12" stroke-width="0.8"/>
<rect x="165.08" y="213.12" width="21.93" height="7.88" fill="#dcdbe4" />
<rect x="166.18" y="214.12" width="19.73" height="5.88" fill="none" stroke="#ffffff" stroke-opacity="0.35" stroke-width="0.8"/>
<rect x="187.01" y="213.12" width="21.93" height="7.88" fill="#ecd9c3" />
<rect x="188.11" y="214.12" width="19.73" height="5.88" fill="none" stroke="#ffffff" stroke-opacity="0.35" stroke-width="0.8"/>
<rect x="208.94" y="213.12" width="21.93" height="7.88" fill="#dcdbe4" />
<rect x="210.04" y="214.12" width="19.73" height="5.88" fill="none" stroke="#ffffff" stroke-opacity="0.35" stroke-width="0.8"/>
<rect x="230.87" y="213.12" width="21.93" height="7.88" fill="#dcdbe4" />
<rect x="231.97" y="214.12" width="19.73" height="5.88" fill="none" stroke="#ffffff" stroke-opacity="0.35" stroke-width="0.8"/>
<rect x="252.80" y="213.12" width="21.93" height="7.88" fill="#d6b692" />
<rect x="253.90" y="214.12" width="19.73" height="5.88" fill="none" stroke="#ffffff" stroke-opacity="0.35" stroke-width="0.8"/>
<rect x="274.73" y="213.12" width="21.93" height="7.88" fill="#dcdbe4" />
<rect x="275.83" y="214.12" width="19.73" height="5.88" fill="none" stroke="#ffffff" stroke-opacity="0.35" stroke-width="0.8"/>
<rect x="296.66" y="213.12" width="21.93" height="7.88" fill="#dcdbe4" />
<rect x="297.76" y="214.12" width="19.73" height="5.88" fill="none" stroke="#ffffff" stroke-opacity="0.35" stroke-width="0.8"/>
<rect x="318.59" y="213.12" width="21.93" height="7.88" fill="#dcdbe4" />
<rect x="319.69" y="214.12" width="19.73" height="5.88" fill="none" stroke="#ffffff" stroke-opacity="0.35" stroke-width="0.8"/>
<rect x="340.52" y="213.12" width="21.93" height="7.88" fill="#dcdbe4" />
<rect x="341.62" y="214.12" width="19.73" height="5.88" fill="none" stroke="#ffffff" stroke-opacity="0.35" stroke-width="0.8"/>
<text x="18.60" y="219.32" font-size="6.5" fill="#231f20" stroke="#231f20" stroke-width="0.16" text-anchor="middle" >13</text>
<rect x="33.50" y="221.00" width="21.93" height="7.88" fill="#a97945" />
<rect x="34.60" y="222.00" width="19.73" height="5.88" fill="none" stroke="#ffffff" stroke-opacity="0.12" stroke-width="0.8"/>
<rect x="55.43" y="221.00" width="21.93" height="7.88" fill="#dcdbe4" />
<rect x="56.53" y="222.00" width="19.73" height="5.88" fill="none" stroke="#ffffff" stroke-opacity="0.35" stroke-width="0.8"/>
<rect x="77.36" y="221.00" width="21.93" height="7.88" fill="#dcdbe4" />
<rect x="78.46" y="222.00" width="19.73" height="5.88" fill="none" stroke="#ffffff" stroke-opacity="0.35" stroke-width="0.8"/>
<rect x="99.29" y="221.00" width="21.93" height="7.88" fill="#dcdbe4" />
<rect x="100.39" y="222.00" width="19.73" height="5.88" fill="none" stroke="#ffffff" stroke-opacity="0.35" stroke-width="0.8"/>
<rect x="121.22" y="221.00" width="21.93" height="7.88" fill="#dcdbe4" />
<rect x="122.32" y="222.00" width="19.73" height="5.88" fill="none" stroke="#ffffff" stroke-opacity="0.35" stroke-width="0.8"/>
<rect x="143.15" y="221.00" width="21.93" height="7.88" fill="#a97945" />
<rect x="144.25" y="222.00" width="19.73" height="5.88" fill="none" stroke="#ffffff" stroke-opacity="0.12" stroke-width="0.8"/>
<rect x="165.08" y="221.00" width="21.93" height="7.88" fill="#dcdbe4" />
<rect x="166.18" y="222.00" width="19.73" height="5.88" fill="none" stroke="#ffffff" stroke-opacity="0.35" stroke-width="0.8"/>
<rect x="187.01" y="221.00" width="21.93" height="7.88" fill="#dcdbe4" />
<rect x="188.11" y="222.00" width="19.73" height="5.88" fill="none" stroke="#ffffff" stroke-opacity="0.35" stroke-width="0.8"/>
<rect x="208.94" y="221.00" width="21.93" height="7.88" fill="#dcdbe4" />
<rect x="210.04" y="222.00" width="19.73" height="5.88" fill="none" stroke="#ffffff" stroke-opacity="0.35" stroke-width="0.8"/>
<rect x="230.87" y="221.00" width="21.93" height="7.88" fill="#dcdbe4" />
<rect x="231.97" y="222.00" width="19.73" height="5.88" fill="none" stroke="#ffffff" stroke-opacity="0.35" stroke-width="0.8"/>
<rect x="252.80" y="221.00" width="21.93" height="7.88" fill="#d6b692" />
<rect x="253.90" y="222.00" width="19.73" height="5.88" fill="none" stroke="#ffffff" stroke-opacity="0.35" stroke-width="0.8"/>
<rect x="274.73" y="221.00" width="21.93" height="7.88" fill="#dcdbe4" />
<rect x="275.83" y="222.00" width="19.73" height="5.88" fill="none" stroke="#ffffff" stroke-opacity="0.35" stroke-width="0.8"/>
<rect x="296.66" y="221.00" width="21.93" height="7.88" fill="#dcdbe4" />
<rect x="297.76" y="222.00" width="19.73" height="5.88" fill="none" stroke="#ffffff" stroke-opacity="0.35" stroke-width="0.8"/>
<rect x="318.59" y="221.00" width="21.93" height="7.88" fill="#dcdbe4" />
<rect x="319.69" y="222.00" width="19.73" height="5.88" fill="none" stroke="#ffffff" stroke-opacity="0.35" stroke-width="0.8"/>
<rect x="340.52" y="221.00" width="21.93" height="7.88" fill="#dcdbe4" />
<rect x="341.62" y="222.00" width="19.73" height="5.88" fill="none" stroke="#ffffff" stroke-opacity="0.35" stroke-width="0.8"/>
<text x="18.60" y="227.20" font-size="6.5" fill="#231f20" stroke="#231f20" stroke-width="0.16" text-anchor="middle" >18</text>
<rect x="33.50" y="228.88" width="21.93" height="7.88" fill="#d6b692" />
<rect x="34.60" y="229.88" width="19.73" height="5.88" fill="none" stroke="#ffffff" stroke-opacity="0.35" stroke-width="0.8"/>
<rect x="55.43" y="228.88" width="21.93" height="7.88" fill="#dcdbe4" />
<rect x="56.53" y="229.88" width="19.73" height="5.88" fill="none" stroke="#ffffff" stroke-opacity="0.35" stroke-width="0.8"/>
<rect x="77.36" y="228.88" width="21.93" height="7.88" fill="#d6b692" />
<rect x="78.46" y="229.88" width="19.73" height="5.88" fill="none" stroke="#ffffff" stroke-opacity="0.35" stroke-width="0.8"/>
<rect x="99.29" y="228.88" width="21.93" height="7.88" fill="#dcdbe4" />
<rect x="100.39" y="229.88" width="19.73" height="5.88" fill="none" stroke="#ffffff" stroke-opacity="0.35" stroke-width="0.8"/>
<rect x="121.22" y="228.88" width="21.93" height="7.88" fill="#dcdbe4" />
<rect x="122.32" y="229.88" width="19.73" height="5.88" fill="none" stroke="#ffffff" stroke-opacity="0.35" stroke-width="0.8"/>
<rect x="143.15" y="228.88" width="21.93" height="7.88" fill="#d6b692" />
<rect x="144.25" y="229.88" width="19.73" height="5.88" fill="none" stroke="#ffffff" stroke-opacity="0.35" stroke-width="0.8"/>
<rect x="165.08" y="228.88" width="21.93" height="7.88" fill="#dcdbe4" />
<rect x="166.18" y="229.88" width="19.73" height="5.88" fill="none" stroke="#ffffff" stroke-opacity="0.35" stroke-width="0.8"/>
<rect x="187.01" y="228.88" width="21.93" height="7.88" fill="#d6b692" />
<rect x="188.11" y="229.88" width="19.73" height="5.88" fill="none" stroke="#ffffff" stroke-opacity="0.35" stroke-width="0.8"/>
<rect x="208.94" y="228.88" width="21.93" height="7.88" fill="#dcdbe4" />
<rect x="210.04" y="229.88" width="19.73" height="5.88" fill="none" stroke="#ffffff" stroke-opacity="0.35" stroke-width="0.8"/>
<rect x="230.87" y="228.88" width="21.93" height="7.88" fill="#dcdbe4" />
<rect x="231.97" y="229.88" width="19.73" height="5.88" fill="none" stroke="#ffffff" stroke-opacity="0.35" stroke-width="0.8"/>
<rect x="252.80" y="228.88" width="21.93" height="7.88" fill="#dcdbe4" />
<rect x="253.90" y="229.88" width="19.73" height="5.88" fill="none" stroke="#ffffff" stroke-opacity="0.35" stroke-width="0.8"/>
<rect x="274.73" y="228.88" width="21.93" height="7.88" fill="#dcdbe4" />
<rect x="275.83" y="229.88" width="19.73" height="5.88" fill="none" stroke="#ffffff" stroke-opacity="0.35" stroke-width="0.8"/>
<rect x="296.66" y="228.88" width="21.93" height="7.88" fill="#dcdbe4" />
<rect x="297.76" y="229.88" width="19.73" height="5.88" fill="none" stroke="#ffffff" stroke-opacity="0.35" stroke-width="0.8"/>
<rect x="318.59" y="228.88" width="21.93" height="7.88" fill="#dcdbe4" />
<rect x="319.69" y="229.88" width="19.73" height="5.88" fill="none" stroke="#ffffff" stroke-opacity="0.35" stroke-width="0.8"/>
<rect x="340.52" y="228.88" width="21.93" height="7.88" fill="#dcdbe4" />
<rect x="341.62" y="229.88" width="19.73" height="5.88" fill="none" stroke="#ffffff" stroke-opacity="0.35" stroke-width="0.8"/>
<text x="18.60" y="235.07" font-size="6.5" fill="#231f20" stroke="#231f20" stroke-width="0.16" text-anchor="middle" >19</text>
<rect x="33.50" y="236.75" width="21.93" height="7.88" fill="#dcdbe4" />
<rect x="34.60" y="237.75" width="19.73" height="5.88" fill="none" stroke="#ffffff" stroke-opacity="0.35" stroke-width="0.8"/>
<rect x="55.43" y="236.75" width="21.93" height="7.88" fill="#dcdbe4" />
<rect x="56.53" y="237.75" width="19.73" height="5.88" fill="none" stroke="#ffffff" stroke-opacity="0.35" stroke-width="0.8"/>
<rect x="77.36" y="236.75" width="21.93" height="7.88" fill="#dcdbe4" />
<rect x="78.46" y="237.75" width="19.73" height="5.88" fill="none" stroke="#ffffff" stroke-opacity="0.35" stroke-width="0.8"/>
<rect x="99.29" y="236.75" width="21.93" height="7.88" fill="#ecd9c3" />
<rect x="100.39" y="237.75" width="19.73" height="5.88" fill="none" stroke="#ffffff" stroke-opacity="0.35" stroke-width="0.8"/>
<rect x="121.22" y="236.75" width="21.93" height="7.88" fill="#dcdbe4" />
<rect x="122.32" y="237.75" width="19.73" height="5.88" fill="none" stroke="#ffffff" stroke-opacity="0.35" stroke-width="0.8"/>
<rect x="143.15" y="236.75" width="21.93" height="7.88" fill="#dcdbe4" />
<rect x="144.25" y="237.75" width="19.73" height="5.88" fill="none" stroke="#ffffff" stroke-opacity="0.35" stroke-width="0.8"/>
<rect x="165.08" y="236.75" width="21.93" height="7.88" fill="#dcdbe4" />
<rect x="166.18" y="237.75" width="19.73" height="5.88" fill="none" stroke="#ffffff" stroke-opacity="0.35" stroke-width="0.8"/>
<rect x="187.01" y="236.75" width="21.93" height="7.88" fill="#dcdbe4" />
<rect x="188.11" y="237.75" width="19.73" height="5.88" fill="none" stroke="#ffffff" stroke-opacity="0.35" stroke-width="0.8"/>
<rect x="208.94" y="236.75" width="21.93" height="7.88" fill="#ecd9c3" />
<rect x="210.04" y="237.75" width="19.73" height="5.88" fill="none" stroke="#ffffff" stroke-opacity="0.35" stroke-width="0.8"/>
<rect x="230.87" y="236.75" width="21.93" height="7.88" fill="#dcdbe4" />
<rect x="231.97" y="237.75" width="19.73" height="5.88" fill="none" stroke="#ffffff" stroke-opacity="0.35" stroke-width="0.8"/>
<rect x="252.80" y="236.75" width="21.93" height="7.88" fill="#dcdbe4" />
<rect x="253.90" y="237.75" width="19.73" height="5.88" fill="none" stroke="#ffffff" stroke-opacity="0.35" stroke-width="0.8"/>
<rect x="274.73" y="236.75" width="21.93" height="7.88" fill="#dcdbe4" />
<rect x="275.83" y="237.75" width="19.73" height="5.88" fill="none" stroke="#ffffff" stroke-opacity="0.35" stroke-width="0.8"/>
<rect x="296.66" y="236.75" width="21.93" height="7.88" fill="#dcdbe4" />
<rect x="297.76" y="237.75" width="19.73" height="5.88" fill="none" stroke="#ffffff" stroke-opacity="0.35" stroke-width="0.8"/>
<rect x="318.59" y="236.75" width="21.93" height="7.88" fill="#ecd9c3" />
<rect x="319.69" y="237.75" width="19.73" height="5.88" fill="none" stroke="#ffffff" stroke-opacity="0.35" stroke-width="0.8"/>
<rect x="340.52" y="236.75" width="21.93" height="7.88" fill="#dcdbe4" />
<rect x="341.62" y="237.75" width="19.73" height="5.88" fill="none" stroke="#ffffff" stroke-opacity="0.35" stroke-width="0.8"/>
<text x="18.60" y="242.95" font-size="6.5" fill="#231f20" stroke="#231f20" stroke-width="0.16" text-anchor="middle" >5</text>
<rect x="33.50" y="244.62" width="21.93" height="7.88" fill="#d6b692" />
<rect x="34.60" y="245.62" width="19.73" height="5.88" fill="none" stroke="#ffffff" stroke-opacity="0.35" stroke-width="0.8"/>
<rect x="55.43" y="244.62" width="21.93" height="7.88" fill="#dcdbe4" />
<rect x="56.53" y="245.62" width="19.73" height="5.88" fill="none" stroke="#ffffff" stroke-opacity="0.35" stroke-width="0.8"/>
<rect x="77.36" y="244.62" width="21.93" height="7.88" fill="#d6b692" />
<rect x="78.46" y="245.62" width="19.73" height="5.88" fill="none" stroke="#ffffff" stroke-opacity="0.35" stroke-width="0.8"/>
<rect x="99.29" y="244.62" width="21.93" height="7.88" fill="#dcdbe4" />
<rect x="100.39" y="245.62" width="19.73" height="5.88" fill="none" stroke="#ffffff" stroke-opacity="0.35" stroke-width="0.8"/>
<rect x="121.22" y="244.62" width="21.93" height="7.88" fill="#dcdbe4" />
<rect x="122.32" y="245.62" width="19.73" height="5.88" fill="none" stroke="#ffffff" stroke-opacity="0.35" stroke-width="0.8"/>
<rect x="143.15" y="244.62" width="21.93" height="7.88" fill="#d6b692" />
<rect x="144.25" y="245.62" width="19.73" height="5.88" fill="none" stroke="#ffffff" stroke-opacity="0.35" stroke-width="0.8"/>
<rect x="165.08" y="244.62" width="21.93" height="7.88" fill="#dcdbe4" />
<rect x="166.18" y="245.62" width="19.73" height="5.88" fill="none" stroke="#ffffff" stroke-opacity="0.35" stroke-width="0.8"/>
<rect x="187.01" y="244.62" width="21.93" height="7.88" fill="#d6b692" />
<rect x="188.11" y="245.62" width="19.73" height="5.88" fill="none" stroke="#ffffff" stroke-opacity="0.35" stroke-width="0.8"/>
<rect x="208.94" y="244.62" width="21.93" height="7.88" fill="#dcdbe4" />
<rect x="210.04" y="245.62" width="19.73" height="5.88" fill="none" stroke="#ffffff" stroke-opacity="0.35" stroke-width="0.8"/>
<rect x="230.87" y="244.62" width="21.93" height="7.88" fill="#dcdbe4" />
<rect x="231.97" y="245.62" width="19.73" height="5.88" fill="none" stroke="#ffffff" stroke-opacity="0.35" stroke-width="0.8"/>
<rect x="252.80" y="244.62" width="21.93" height="7.88" fill="#d6b692" />
<rect x="253.90" y="245.62" width="19.73" height="5.88" fill="none" stroke="#ffffff" stroke-opacity="0.35" stroke-width="0.8"/>
<rect x="274.73" y="244.62" width="21.93" height="7.88" fill="#dcdbe4" />
<rect x="275.83" y="245.62" width="19.73" height="5.88" fill="none" stroke="#ffffff" stroke-opacity="0.35" stroke-width="0.8"/>
<rect x="296.66" y="244.62" width="21.93" height="7.88" fill="#d6b692" />
<rect x="297.76" y="245.62" width="19.73" height="5.88" fill="none" stroke="#ffffff" stroke-opacity="0.35" stroke-width="0.8"/>
<rect x="318.59" y="244.62" width="21.93" height="7.88" fill="#dcdbe4" />
<rect x="319.69" y="245.62" width="19.73" height="5.88" fill="none" stroke="#ffffff" stroke-opacity="0.35" stroke-width="0.8"/>
<rect x="340.52" y="244.62" width="21.93" height="7.88" fill="#dcdbe4" />
<rect x="341.62" y="245.62" width="19.73" height="5.88" fill="none" stroke="#ffffff" stroke-opacity="0.35" stroke-width="0.8"/>
<text x="18.60" y="250.82" font-size="6.5" fill="#231f20" stroke="#231f20" stroke-width="0.16" text-anchor="middle" >6</text>
<rect x="33.50" y="252.50" width="21.93" height="7.88" fill="#d6b692" />
<rect x="34.60" y="253.50" width="19.73" height="5.88" fill="none" stroke="#ffffff" stroke-opacity="0.35" stroke-width="0.8"/>
<rect x="55.43" y="252.50" width="21.93" height="7.88" fill="#dcdbe4" />
<rect x="56.53" y="253.50" width="19.73" height="5.88" fill="none" stroke="#ffffff" stroke-opacity="0.35" stroke-width="0.8"/>
<rect x="77.36" y="252.50" width="21.93" height="7.88" fill="#d6b692" />
<rect x="78.46" y="253.50" width="19.73" height="5.88" fill="none" stroke="#ffffff" stroke-opacity="0.35" stroke-width="0.8"/>
<rect x="99.29" y="252.50" width="21.93" height="7.88" fill="#ecd9c3" />
<rect x="100.39" y="253.50" width="19.73" height="5.88" fill="none" stroke="#ffffff" stroke-opacity="0.35" stroke-width="0.8"/>
<rect x="121.22" y="252.50" width="21.93" height="7.88" fill="#dcdbe4" />
<rect x="122.32" y="253.50" width="19.73" height="5.88" fill="none" stroke="#ffffff" stroke-opacity="0.35" stroke-width="0.8"/>
<rect x="143.15" y="252.50" width="21.93" height="7.88" fill="#d6b692" />
<rect x="144.25" y="253.50" width="19.73" height="5.88" fill="none" stroke="#ffffff" stroke-opacity="0.35" stroke-width="0.8"/>
<rect x="165.08" y="252.50" width="21.93" height="7.88" fill="#dcdbe4" />
<rect x="166.18" y="253.50" width="19.73" height="5.88" fill="none" stroke="#ffffff" stroke-opacity="0.35" stroke-width="0.8"/>
<rect x="187.01" y="252.50" width="21.93" height="7.88" fill="#d6b692" />
<rect x="188.11" y="253.50" width="19.73" height="5.88" fill="none" stroke="#ffffff" stroke-opacity="0.35" stroke-width="0.8"/>
<rect x="208.94" y="252.50" width="21.93" height="7.88" fill="#ecd9c3" />
<rect x="210.04" y="253.50" width="19.73" height="5.88" fill="none" stroke="#ffffff" stroke-opacity="0.35" stroke-width="0.8"/>
<rect x="230.87" y="252.50" width="21.93" height="7.88" fill="#dcdbe4" />
<rect x="231.97" y="253.50" width="19.73" height="5.88" fill="none" stroke="#ffffff" stroke-opacity="0.35" stroke-width="0.8"/>
<rect x="252.80" y="252.50" width="21.93" height="7.88" fill="#d6b692" />
<rect x="253.90" y="253.50" width="19.73" height="5.88" fill="none" stroke="#ffffff" stroke-opacity="0.35" stroke-width="0.8"/>
<rect x="274.73" y="252.50" width="21.93" height="7.88" fill="#dcdbe4" />
<rect x="275.83" y="253.50" width="19.73" height="5.88" fill="none" stroke="#ffffff" stroke-opacity="0.35" stroke-width="0.8"/>
<rect x="296.66" y="252.50" width="21.93" height="7.88" fill="#d6b692" />
<rect x="297.76" y="253.50" width="19.73" height="5.88" fill="none" stroke="#ffffff" stroke-opacity="0.35" stroke-width="0.8"/>
<rect x="318.59" y="252.50" width="21.93" height="7.88" fill="#ecd9c3" />
<rect x="319.69" y="253.50" width="19.73" height="5.88" fill="none" stroke="#ffffff" stroke-opacity="0.35" stroke-width="0.8"/>
<rect x="340.52" y="252.50" width="21.93" height="7.88" fill="#dcdbe4" />
<rect x="341.62" y="253.50" width="19.73" height="5.88" fill="none" stroke="#ffffff" stroke-opacity="0.35" stroke-width="0.8"/>
<text x="18.60" y="258.70" font-size="6.5" fill="#231f20" stroke="#231f20" stroke-width="0.16" text-anchor="middle" >11</text>
<rect x="33.50" y="260.38" width="21.93" height="7.88" fill="#a97945" />
<rect x="34.60" y="261.38" width="19.73" height="5.88" fill="none" stroke="#ffffff" stroke-opacity="0.12" stroke-width="0.8"/>
<rect x="55.43" y="260.38" width="21.93" height="7.88" fill="#dcdbe4" />
<rect x="56.53" y="261.38" width="19.73" height="5.88" fill="none" stroke="#ffffff" stroke-opacity="0.35" stroke-width="0.8"/>
<rect x="77.36" y="260.38" width="21.93" height="7.88" fill="#d6b692" />
<rect x="78.46" y="261.38" width="19.73" height="5.88" fill="none" stroke="#ffffff" stroke-opacity="0.35" stroke-width="0.8"/>
<rect x="99.29" y="260.38" width="21.93" height="7.88" fill="#dcdbe4" />
<rect x="100.39" y="261.38" width="19.73" height="5.88" fill="none" stroke="#ffffff" stroke-opacity="0.35" stroke-width="0.8"/>
<rect x="121.22" y="260.38" width="21.93" height="7.88" fill="#dcdbe4" />
<rect x="122.32" y="261.38" width="19.73" height="5.88" fill="none" stroke="#ffffff" stroke-opacity="0.35" stroke-width="0.8"/>
<rect x="143.15" y="260.38" width="21.93" height="7.88" fill="#a97945" />
<rect x="144.25" y="261.38" width="19.73" height="5.88" fill="none" stroke="#ffffff" stroke-opacity="0.12" stroke-width="0.8"/>
<rect x="165.08" y="260.38" width="21.93" height="7.88" fill="#dcdbe4" />
<rect x="166.18" y="261.38" width="19.73" height="5.88" fill="none" stroke="#ffffff" stroke-opacity="0.35" stroke-width="0.8"/>
<rect x="187.01" y="260.38" width="21.93" height="7.88" fill="#d6b692" />
<rect x="188.11" y="261.38" width="19.73" height="5.88" fill="none" stroke="#ffffff" stroke-opacity="0.35" stroke-width="0.8"/>
<rect x="208.94" y="260.38" width="21.93" height="7.88" fill="#dcdbe4" />
<rect x="210.04" y="261.38" width="19.73" height="5.88" fill="none" stroke="#ffffff" stroke-opacity="0.35" stroke-width="0.8"/>
<rect x="230.87" y="260.38" width="21.93" height="7.88" fill="#dcdbe4" />
<rect x="231.97" y="261.38" width="19.73" height="5.88" fill="none" stroke="#ffffff" stroke-opacity="0.35" stroke-width="0.8"/>
<rect x="252.80" y="260.38" width="21.93" height="7.88" fill="#a97945" />
<rect x="253.90" y="261.38" width="19.73" height="5.88" fill="none" stroke="#ffffff" stroke-opacity="0.12" stroke-width="0.8"/>
<rect x="274.73" y="260.38" width="21.93" height="7.88" fill="#dcdbe4" />
<rect x="275.83" y="261.38" width="19.73" height="5.88" fill="none" stroke="#ffffff" stroke-opacity="0.35" stroke-width="0.8"/>
<rect x="296.66" y="260.38" width="21.93" height="7.88" fill="#d6b692" />
<rect x="297.76" y="261.38" width="19.73" height="5.88" fill="none" stroke="#ffffff" stroke-opacity="0.35" stroke-width="0.8"/>
<rect x="318.59" y="260.38" width="21.93" height="7.88" fill="#dcdbe4" />
<rect x="319.69" y="261.38" width="19.73" height="5.88" fill="none" stroke="#ffffff" stroke-opacity="0.35" stroke-width="0.8"/>
<rect x="340.52" y="260.38" width="21.93" height="7.88" fill="#dcdbe4" />
<rect x="341.62" y="261.38" width="19.73" height="5.88" fill="none" stroke="#ffffff" stroke-opacity="0.35" stroke-width="0.8"/>
<text x="18.60" y="266.57" font-size="6.5" fill="#231f20" stroke="#231f20" stroke-width="0.16" text-anchor="middle" >14</text>
<rect x="33.50" y="268.25" width="21.93" height="7.88" fill="#a97945" />
<rect x="34.60" y="269.25" width="19.73" height="5.88" fill="none" stroke="#ffffff" stroke-opacity="0.12" stroke-width="0.8"/>
<rect x="55.43" y="268.25" width="21.93" height="7.88" fill="#dcdbe4" />
<rect x="56.53" y="269.25" width="19.73" height="5.88" fill="none" stroke="#ffffff" stroke-opacity="0.35" stroke-width="0.8"/>
<rect x="77.36" y="268.25" width="21.93" height="7.88" fill="#ecd9c3" />
<rect x="78.46" y="269.25" width="19.73" height="5.88" fill="none" stroke="#ffffff" stroke-opacity="0.35" stroke-width="0.8"/>
<rect x="99.29" y="268.25" width="21.93" height="7.88" fill="#ecd9c3" />
<rect x="100.39" y="269.25" width="19.73" height="5.88" fill="none" stroke="#ffffff" stroke-opacity="0.35" stroke-width="0.8"/>
<rect x="121.22" y="268.25" width="21.93" height="7.88" fill="#dcdbe4" />
<rect x="122.32" y="269.25" width="19.73" height="5.88" fill="none" stroke="#ffffff" stroke-opacity="0.35" stroke-width="0.8"/>
<rect x="143.15" y="268.25" width="21.93" height="7.88" fill="#a97945" />
<rect x="144.25" y="269.25" width="19.73" height="5.88" fill="none" stroke="#ffffff" stroke-opacity="0.12" stroke-width="0.8"/>
<rect x="165.08" y="268.25" width="21.93" height="7.88" fill="#dcdbe4" />
<rect x="166.18" y="269.25" width="19.73" height="5.88" fill="none" stroke="#ffffff" stroke-opacity="0.35" stroke-width="0.8"/>
<rect x="187.01" y="268.25" width="21.93" height="7.88" fill="#ecd9c3" />
<rect x="188.11" y="269.25" width="19.73" height="5.88" fill="none" stroke="#ffffff" stroke-opacity="0.35" stroke-width="0.8"/>
<rect x="208.94" y="268.25" width="21.93" height="7.88" fill="#ecd9c3" />
<rect x="210.04" y="269.25" width="19.73" height="5.88" fill="none" stroke="#ffffff" stroke-opacity="0.35" stroke-width="0.8"/>
<rect x="230.87" y="268.25" width="21.93" height="7.88" fill="#dcdbe4" />
<rect x="231.97" y="269.25" width="19.73" height="5.88" fill="none" stroke="#ffffff" stroke-opacity="0.35" stroke-width="0.8"/>
<rect x="252.80" y="268.25" width="21.93" height="7.88" fill="#a97945" />
<rect x="253.90" y="269.25" width="19.73" height="5.88" fill="none" stroke="#ffffff" stroke-opacity="0.12" stroke-width="0.8"/>
<rect x="274.73" y="268.25" width="21.93" height="7.88" fill="#dcdbe4" />
<rect x="275.83" y="269.25" width="19.73" height="5.88" fill="none" stroke="#ffffff" stroke-opacity="0.35" stroke-width="0.8"/>
<rect x="296.66" y="268.25" width="21.93" height="7.88" fill="#ecd9c3" />
<rect x="297.76" y="269.25" width="19.73" height="5.88" fill="none" stroke="#ffffff" stroke-opacity="0.35" stroke-width="0.8"/>
<rect x="318.59" y="268.25" width="21.93" height="7.88" fill="#ecd9c3" />
<rect x="319.69" y="269.25" width="19.73" height="5.88" fill="none" stroke="#ffffff" stroke-opacity="0.35" stroke-width="0.8"/>
<rect x="340.52" y="268.25" width="21.93" height="7.88" fill="#dcdbe4" />
<rect x="341.62" y="269.25" width="19.73" height="5.88" fill="none" stroke="#ffffff" stroke-opacity="0.35" stroke-width="0.8"/>
<text x="18.60" y="274.45" font-size="6.5" fill="#231f20" stroke="#231f20" stroke-width="0.16" text-anchor="middle" >15</text>
<rect x="33.50" y="276.12" width="21.93" height="7.88" fill="#a97945" />
<rect x="34.60" y="277.12" width="19.73" height="5.88" fill="none" stroke="#ffffff" stroke-opacity="0.12" stroke-width="0.8"/>
<rect x="55.43" y="276.12" width="21.93" height="7.88" fill="#dcdbe4" />
<rect x="56.53" y="277.12" width="19.73" height="5.88" fill="none" stroke="#ffffff" stroke-opacity="0.35" stroke-width="0.8"/>
<rect x="77.36" y="276.12" width="21.93" height="7.88" fill="#d6b692" />
<rect x="78.46" y="277.12" width="19.73" height="5.88" fill="none" stroke="#ffffff" stroke-opacity="0.35" stroke-width="0.8"/>
<rect x="99.29" y="276.12" width="21.93" height="7.88" fill="#dcdbe4" />
<rect x="100.39" y="277.12" width="19.73" height="5.88" fill="none" stroke="#ffffff" stroke-opacity="0.35" stroke-width="0.8"/>
<rect x="121.22" y="276.12" width="21.93" height="7.88" fill="#dcdbe4" />
<rect x="122.32" y="277.12" width="19.73" height="5.88" fill="none" stroke="#ffffff" stroke-opacity="0.35" stroke-width="0.8"/>
<rect x="143.15" y="276.12" width="21.93" height="7.88" fill="#a97945" />
<rect x="144.25" y="277.12" width="19.73" height="5.88" fill="none" stroke="#ffffff" stroke-opacity="0.12" stroke-width="0.8"/>
<rect x="165.08" y="276.12" width="21.93" height="7.88" fill="#dcdbe4" />
<rect x="166.18" y="277.12" width="19.73" height="5.88" fill="none" stroke="#ffffff" stroke-opacity="0.35" stroke-width="0.8"/>
<rect x="187.01" y="276.12" width="21.93" height="7.88" fill="#d6b692" />
<rect x="188.11" y="277.12" width="19.73" height="5.88" fill="none" stroke="#ffffff" stroke-opacity="0.35" stroke-width="0.8"/>
<rect x="208.94" y="276.12" width="21.93" height="7.88" fill="#dcdbe4" />
<rect x="210.04" y="277.12" width="19.73" height="5.88" fill="none" stroke="#ffffff" stroke-opacity="0.35" stroke-width="0.8"/>
<rect x="230.87" y="276.12" width="21.93" height="7.88" fill="#dcdbe4" />
<rect x="231.97" y="277.12" width="19.73" height="5.88" fill="none" stroke="#ffffff" stroke-opacity="0.35" stroke-width="0.8"/>
<rect x="252.80" y="276.12" width="21.93" height="7.88" fill="#a97945" />
<rect x="253.90" y="277.12" width="19.73" height="5.88" fill="none" stroke="#ffffff" stroke-opacity="0.12" stroke-width="0.8"/>
<rect x="274.73" y="276.12" width="21.93" height="7.88" fill="#dcdbe4" />
<rect x="275.83" y="277.12" width="19.73" height="5.88" fill="none" stroke="#ffffff" stroke-opacity="0.35" stroke-width="0.8"/>
<rect x="296.66" y="276.12" width="21.93" height="7.88" fill="#d6b692" />
<rect x="297.76" y="277.12" width="19.73" height="5.88" fill="none" stroke="#ffffff" stroke-opacity="0.35" stroke-width="0.8"/>
<rect x="318.59" y="276.12" width="21.93" height="7.88" fill="#dcdbe4" />
<rect x="319.69" y="277.12" width="19.73" height="5.88" fill="none" stroke="#ffffff" stroke-opacity="0.35" stroke-width="0.8"/>
<rect x="340.52" y="276.12" width="21.93" height="7.88" fill="#dcdbe4" />
<rect x="341.62" y="277.12" width="19.73" height="5.88" fill="none" stroke="#ffffff" stroke-opacity="0.35" stroke-width="0.8"/>
<text x="18.60" y="282.32" font-size="6.5" fill="#231f20" stroke="#231f20" stroke-width="0.16" text-anchor="middle" >20</text>
<rect x="33.50" y="284.00" width="21.93" height="7.88" fill="#a97945" />
<rect x="34.60" y="285.00" width="19.73" height="5.88" fill="none" stroke="#ffffff" stroke-opacity="0.12" stroke-width="0.8"/>
<rect x="55.43" y="284.00" width="21.93" height="7.88" fill="#dcdbe4" />
<rect x="56.53" y="285.00" width="19.73" height="5.88" fill="none" stroke="#ffffff" stroke-opacity="0.35" stroke-width="0.8"/>
<rect x="77.36" y="284.00" width="21.93" height="7.88" fill="#d6b692" />
<rect x="78.46" y="285.00" width="19.73" height="5.88" fill="none" stroke="#ffffff" stroke-opacity="0.35" stroke-width="0.8"/>
<rect x="99.29" y="284.00" width="21.93" height="7.88" fill="#dcdbe4" />
<rect x="100.39" y="285.00" width="19.73" height="5.88" fill="none" stroke="#ffffff" stroke-opacity="0.35" stroke-width="0.8"/>
<rect x="121.22" y="284.00" width="21.93" height="7.88" fill="#dcdbe4" />
<rect x="122.32" y="285.00" width="19.73" height="5.88" fill="none" stroke="#ffffff" stroke-opacity="0.35" stroke-width="0.8"/>
<rect x="143.15" y="284.00" width="21.93" height="7.88" fill="#a97945" />
<rect x="144.25" y="285.00" width="19.73" height="5.88" fill="none" stroke="#ffffff" stroke-opacity="0.12" stroke-width="0.8"/>
<rect x="165.08" y="284.00" width="21.93" height="7.88" fill="#dcdbe4" />
<rect x="166.18" y="285.00" width="19.73" height="5.88" fill="none" stroke="#ffffff" stroke-opacity="0.35" stroke-width="0.8"/>
<rect x="187.01" y="284.00" width="21.93" height="7.88" fill="#d6b692" />
<rect x="188.11" y="285.00" width="19.73" height="5.88" fill="none" stroke="#ffffff" stroke-opacity="0.35" stroke-width="0.8"/>
<rect x="208.94" y="284.00" width="21.93" height="7.88" fill="#dcdbe4" />
<rect x="210.04" y="285.00" width="19.73" height="5.88" fill="none" stroke="#ffffff" stroke-opacity="0.35" stroke-width="0.8"/>
<rect x="230.87" y="284.00" width="21.93" height="7.88" fill="#dcdbe4" />
<rect x="231.97" y="285.00" width="19.73" height="5.88" fill="none" stroke="#ffffff" stroke-opacity="0.35" stroke-width="0.8"/>
<rect x="252.80" y="284.00" width="21.93" height="7.88" fill="#a97945" />
<rect x="253.90" y="285.00" width="19.73" height="5.88" fill="none" stroke="#ffffff" stroke-opacity="0.12" stroke-width="0.8"/>
<rect x="274.73" y="284.00" width="21.93" height="7.88" fill="#dcdbe4" />
<rect x="275.83" y="285.00" width="19.73" height="5.88" fill="none" stroke="#ffffff" stroke-opacity="0.35" stroke-width="0.8"/>
<rect x="296.66" y="284.00" width="21.93" height="7.88" fill="#d6b692" />
<rect x="297.76" y="285.00" width="19.73" height="5.88" fill="none" stroke="#ffffff" stroke-opacity="0.35" stroke-width="0.8"/>
<rect x="318.59" y="284.00" width="21.93" height="7.88" fill="#ecd9c3" />
<rect x="319.69" y="285.00" width="19.73" height="5.88" fill="none" stroke="#ffffff" stroke-opacity="0.35" stroke-width="0.8"/>
<rect x="340.52" y="284.00" width="21.93" height="7.88" fill="#dcdbe4" />
<rect x="341.62" y="285.00" width="19.73" height="5.88" fill="none" stroke="#ffffff" stroke-opacity="0.35" stroke-width="0.8"/>
<text x="18.60" y="290.20" font-size="6.5" fill="#231f20" stroke="#231f20" stroke-width="0.16" text-anchor="middle" >16</text>
<rect x="33.50" y="291.88" width="21.93" height="7.88" fill="#d6b692" />
<rect x="34.60" y="292.88" width="19.73" height="5.88" fill="none" stroke="#ffffff" stroke-opacity="0.35" stroke-width="0.8"/>
<rect x="55.43" y="291.88" width="21.93" height="7.88" fill="#dcdbe4" />
<rect x="56.53" y="292.88" width="19.73" height="5.88" fill="none" stroke="#ffffff" stroke-opacity="0.35" stroke-width="0.8"/>
<rect x="77.36" y="291.88" width="21.93" height="7.88" fill="#d6b692" />
<rect x="78.46" y="292.88" width="19.73" height="5.88" fill="none" stroke="#ffffff" stroke-opacity="0.35" stroke-width="0.8"/>
<rect x="99.29" y="291.88" width="21.93" height="7.88" fill="#dcdbe4" />
<rect x="100.39" y="292.88" width="19.73" height="5.88" fill="none" stroke="#ffffff" stroke-opacity="0.35" stroke-width="0.8"/>
<rect x="121.22" y="291.88" width="21.93" height="7.88" fill="#dcdbe4" />
<rect x="122.32" y="292.88" width="19.73" height="5.88" fill="none" stroke="#ffffff" stroke-opacity="0.35" stroke-width="0.8"/>
<rect x="143.15" y="291.88" width="21.93" height="7.88" fill="#d6b692" />
<rect x="144.25" y="292.88" width="19.73" height="5.88" fill="none" stroke="#ffffff" stroke-opacity="0.35" stroke-width="0.8"/>
<rect x="165.08" y="291.88" width="21.93" height="7.88" fill="#dcdbe4" />
<rect x="166.18" y="292.88" width="19.73" height="5.88" fill="none" stroke="#ffffff" stroke-opacity="0.35" stroke-width="0.8"/>
<rect x="187.01" y="291.88" width="21.93" height="7.88" fill="#d6b692" />
<rect x="188.11" y="292.88" width="19.73" height="5.88" fill="none" stroke="#ffffff" stroke-opacity="0.35" stroke-width="0.8"/>
<rect x="208.94" y="291.88" width="21.93" height="7.88" fill="#dcdbe4" />
<rect x="210.04" y="292.88" width="19.73" height="5.88" fill="none" stroke="#ffffff" stroke-opacity="0.35" stroke-width="0.8"/>
<rect x="230.87" y="291.88" width="21.93" height="7.88" fill="#dcdbe4" />
<rect x="231.97" y="292.88" width="19.73" height="5.88" fill="none" stroke="#ffffff" stroke-opacity="0.35" stroke-width="0.8"/>
<rect x="252.80" y="291.88" width="21.93" height="7.88" fill="#d6b692" />
<rect x="253.90" y="292.88" width="19.73" height="5.88" fill="none" stroke="#ffffff" stroke-opacity="0.35" stroke-width="0.8"/>
<rect x="274.73" y="291.88" width="21.93" height="7.88" fill="#dcdbe4" />
<rect x="275.83" y="292.88" width="19.73" height="5.88" fill="none" stroke="#ffffff" stroke-opacity="0.35" stroke-width="0.8"/>
<rect x="296.66" y="291.88" width="21.93" height="7.88" fill="#d6b692" />
<rect x="297.76" y="292.88" width="19.73" height="5.88" fill="none" stroke="#ffffff" stroke-opacity="0.35" stroke-width="0.8"/>
<rect x="318.59" y="291.88" width="21.93" height="7.88" fill="#ecd9c3" />
<rect x="319.69" y="292.88" width="19.73" height="5.88" fill="none" stroke="#ffffff" stroke-opacity="0.35" stroke-width="0.8"/>
<rect x="340.52" y="291.88" width="21.93" height="7.88" fill="#dcdbe4" />
<rect x="341.62" y="292.88" width="19.73" height="5.88" fill="none" stroke="#ffffff" stroke-opacity="0.35" stroke-width="0.8"/>
<text x="18.60" y="298.07" font-size="6.5" fill="#231f20" stroke="#231f20" stroke-width="0.16" text-anchor="middle" >24</text>
<rect x="33.50" y="299.75" width="21.93" height="7.88" fill="#a97945" />
<rect x="34.60" y="300.75" width="19.73" height="5.88" fill="none" stroke="#ffffff" stroke-opacity="0.12" stroke-width="0.8"/>
<rect x="55.43" y="299.75" width="21.93" height="7.88" fill="#dcdbe4" />
<rect x="56.53" y="300.75" width="19.73" height="5.88" fill="none" stroke="#ffffff" stroke-opacity="0.35" stroke-width="0.8"/>
<rect x="77.36" y="299.75" width="21.93" height="7.88" fill="#dcdbe4" />
<rect x="78.46" y="300.75" width="19.73" height="5.88" fill="none" stroke="#ffffff" stroke-opacity="0.35" stroke-width="0.8"/>
<rect x="99.29" y="299.75" width="21.93" height="7.88" fill="#dcdbe4" />
<rect x="100.39" y="300.75" width="19.73" height="5.88" fill="none" stroke="#ffffff" stroke-opacity="0.35" stroke-width="0.8"/>
<rect x="121.22" y="299.75" width="21.93" height="7.88" fill="#dcdbe4" />
<rect x="122.32" y="300.75" width="19.73" height="5.88" fill="none" stroke="#ffffff" stroke-opacity="0.35" stroke-width="0.8"/>
<rect x="143.15" y="299.75" width="21.93" height="7.88" fill="#a97945" />
<rect x="144.25" y="300.75" width="19.73" height="5.88" fill="none" stroke="#ffffff" stroke-opacity="0.12" stroke-width="0.8"/>
<rect x="165.08" y="299.75" width="21.93" height="7.88" fill="#dcdbe4" />
<rect x="166.18" y="300.75" width="19.73" height="5.88" fill="none" stroke="#ffffff" stroke-opacity="0.35" stroke-width="0.8"/>
<rect x="187.01" y="299.75" width="21.93" height="7.88" fill="#dcdbe4" />
<rect x="188.11" y="300.75" width="19.73" height="5.88" fill="none" stroke="#ffffff" stroke-opacity="0.35" stroke-width="0.8"/>
<rect x="208.94" y="299.75" width="21.93" height="7.88" fill="#dcdbe4" />
<rect x="210.04" y="300.75" width="19.73" height="5.88" fill="none" stroke="#ffffff" stroke-opacity="0.35" stroke-width="0.8"/>
<rect x="230.87" y="299.75" width="21.93" height="7.88" fill="#dcdbe4" />
<rect x="231.97" y="300.75" width="19.73" height="5.88" fill="none" stroke="#ffffff" stroke-opacity="0.35" stroke-width="0.8"/>
<rect x="252.80" y="299.75" width="21.93" height="7.88" fill="#ccc6c8" />
<rect x="253.90" y="300.75" width="19.73" height="5.88" fill="none" stroke="#ffffff" stroke-opacity="0.35" stroke-width="0.8"/>
<rect x="274.73" y="299.75" width="21.93" height="7.88" fill="#ccc6c8" />
<rect x="275.83" y="300.75" width="19.73" height="5.88" fill="none" stroke="#ffffff" stroke-opacity="0.35" stroke-width="0.8"/>
<rect x="296.66" y="299.75" width="21.93" height="7.88" fill="#ccc6c8" />
<rect x="297.76" y="300.75" width="19.73" height="5.88" fill="none" stroke="#ffffff" stroke-opacity="0.35" stroke-width="0.8"/>
<rect x="318.59" y="299.75" width="21.93" height="7.88" fill="#ccc6c8" />
<rect x="319.69" y="300.75" width="19.73" height="5.88" fill="none" stroke="#ffffff" stroke-opacity="0.35" stroke-width="0.8"/>
<rect x="340.52" y="299.75" width="21.93" height="7.88" fill="#ccc6c8" />
<rect x="341.62" y="300.75" width="19.73" height="5.88" fill="none" stroke="#ffffff" stroke-opacity="0.35" stroke-width="0.8"/>
<text x="18.60" y="305.95" font-size="6.5" fill="#231f20" stroke="#231f20" stroke-width="0.16" text-anchor="middle" >1</text>
<rect x="33.50" y="307.62" width="21.93" height="7.88" fill="#d6b692" />
<rect x="34.60" y="308.62" width="19.73" height="5.88" fill="none" stroke="#ffffff" stroke-opacity="0.35" stroke-width="0.8"/>
<rect x="55.43" y="307.62" width="21.93" height="7.88" fill="#d6b692" />
<rect x="56.53" y="308.62" width="19.73" height="5.88" fill="none" stroke="#ffffff" stroke-opacity="0.35" stroke-width="0.8"/>
<rect x="77.36" y="307.62" width="21.93" height="7.88" fill="#ecd9c3" />
<rect x="78.46" y="308.62" width="19.73" height="5.88" fill="none" stroke="#ffffff" stroke-opacity="0.35" stroke-width="0.8"/>
<rect x="99.29" y="307.62" width="21.93" height="7.88" fill="#ecd9c3" />
<rect x="100.39" y="308.62" width="19.73" height="5.88" fill="none" stroke="#ffffff" stroke-opacity="0.35" stroke-width="0.8"/>
<rect x="121.22" y="307.62" width="21.93" height="7.88" fill="#dcdbe4" />
<rect x="122.32" y="308.62" width="19.73" height="5.88" fill="none" stroke="#ffffff" stroke-opacity="0.35" stroke-width="0.8"/>
<rect x="143.15" y="307.62" width="21.93" height="7.88" fill="#d6b692" />
<rect x="144.25" y="308.62" width="19.73" height="5.88" fill="none" stroke="#ffffff" stroke-opacity="0.35" stroke-width="0.8"/>
<rect x="165.08" y="307.62" width="21.93" height="7.88" fill="#d6b692" />
<rect x="166.18" y="308.62" width="19.73" height="5.88" fill="none" stroke="#ffffff" stroke-opacity="0.35" stroke-width="0.8"/>
<rect x="187.01" y="307.62" width="21.93" height="7.88" fill="#ecd9c3" />
<rect x="188.11" y="308.62" width="19.73" height="5.88" fill="none" stroke="#ffffff" stroke-opacity="0.35" stroke-width="0.8"/>
<rect x="208.94" y="307.62" width="21.93" height="7.88" fill="#ecd9c3" />
<rect x="210.04" y="308.62" width="19.73" height="5.88" fill="none" stroke="#ffffff" stroke-opacity="0.35" stroke-width="0.8"/>
<rect x="230.87" y="307.62" width="21.93" height="7.88" fill="#dcdbe4" />
<rect x="231.97" y="308.62" width="19.73" height="5.88" fill="none" stroke="#ffffff" stroke-opacity="0.35" stroke-width="0.8"/>
<rect x="252.80" y="307.62" width="21.93" height="7.88" fill="#ccc6c8" />
<rect x="253.90" y="308.62" width="19.73" height="5.88" fill="none" stroke="#ffffff" stroke-opacity="0.35" stroke-width="0.8"/>
<rect x="274.73" y="307.62" width="21.93" height="7.88" fill="#ccc6c8" />
<rect x="275.83" y="308.62" width="19.73" height="5.88" fill="none" stroke="#ffffff" stroke-opacity="0.35" stroke-width="0.8"/>
<rect x="296.66" y="307.62" width="21.93" height="7.88" fill="#ccc6c8" />
<rect x="297.76" y="308.62" width="19.73" height="5.88" fill="none" stroke="#ffffff" stroke-opacity="0.35" stroke-width="0.8"/>
<rect x="318.59" y="307.62" width="21.93" height="7.88" fill="#ccc6c8" />
<rect x="319.69" y="308.62" width="19.73" height="5.88" fill="none" stroke="#ffffff" stroke-opacity="0.35" stroke-width="0.8"/>
<rect x="340.52" y="307.62" width="21.93" height="7.88" fill="#ccc6c8" />
<rect x="341.62" y="308.62" width="19.73" height="5.88" fill="none" stroke="#ffffff" stroke-opacity="0.35" stroke-width="0.8"/>
<text x="18.60" y="313.82" font-size="6.5" fill="#231f20" stroke="#231f20" stroke-width="0.16" text-anchor="middle" >23</text>
<line x1="33.50" y1="126.50" x2="362.45" y2="126.50" stroke="#222222" stroke-width="1.0" />
<line x1="33.50" y1="134.38" x2="362.45" y2="134.38" stroke="#222222" stroke-width="1.0" />
<line x1="33.50" y1="142.25" x2="362.45" y2="142.25" stroke="#222222" stroke-width="1.0" />
<line x1="33.50" y1="150.12" x2="362.45" y2="150.12" stroke="#222222" stroke-width="1.0" />
<line x1="33.50" y1="158.00" x2="362.45" y2="158.00" stroke="#222222" stroke-width="1.0" />
<line x1="33.50" y1="165.88" x2="362.45" y2="165.88" stroke="#222222" stroke-width="1.0" />
<line x1="33.50" y1="173.75" x2="362.45" y2="173.75" stroke="#222222" stroke-width="1.0" />
<line x1="33.50" y1="181.62" x2="362.45" y2="181.62" stroke="#222222" stroke-width="1.0" />
<line x1="33.50" y1="189.50" x2="362.45" y2="189.50" stroke="#222222" stroke-width="1.0" />
<line x1="33.50" y1="197.38" x2="362.45" y2="197.38" stroke="#222222" stroke-width="1.0" />
<line x1="33.50" y1="205.25" x2="362.45" y2="205.25" stroke="#222222" stroke-width="1.0" />
<line x1="33.50" y1="213.12" x2="362.45" y2="213.12" stroke="#222222" stroke-width="1.0" />
<line x1="33.50" y1="221.00" x2="362.45" y2="221.00" stroke="#222222" stroke-width="1.0" />
<line x1="33.50" y1="228.88" x2="362.45" y2="228.88" stroke="#222222" stroke-width="1.0" />
<line x1="33.50" y1="236.75" x2="362.45" y2="236.75" stroke="#222222" stroke-width="1.0" />
<line x1="33.50" y1="244.62" x2="362.45" y2="244.62" stroke="#222222" stroke-width="1.0" />
<line x1="33.50" y1="252.50" x2="362.45" y2="252.50" stroke="#222222" stroke-width="1.0" />
<line x1="33.50" y1="260.38" x2="362.45" y2="260.38" stroke="#222222" stroke-width="1.0" />
<line x1="33.50" y1="268.25" x2="362.45" y2="268.25" stroke="#222222" stroke-width="1.0" />
<line x1="33.50" y1="276.12" x2="362.45" y2="276.12" stroke="#222222" stroke-width="1.0" />
<line x1="33.50" y1="284.00" x2="362.45" y2="284.00" stroke="#222222" stroke-width="1.0" />
<line x1="33.50" y1="291.88" x2="362.45" y2="291.88" stroke="#222222" stroke-width="1.0" />
<line x1="33.50" y1="299.75" x2="362.45" y2="299.75" stroke="#222222" stroke-width="1.0" />
<line x1="33.50" y1="307.62" x2="362.45" y2="307.62" stroke="#222222" stroke-width="1.0" />
<line x1="33.50" y1="315.50" x2="362.45" y2="315.50" stroke="#222222" stroke-width="1.0" />
<line x1="33.50" y1="126.50" x2="33.50" y2="315.50" stroke="#222222" stroke-width="1.0" />
<line x1="55.43" y1="126.50" x2="55.43" y2="315.50" stroke="#222222" stroke-width="1.0" />
<line x1="77.36" y1="126.50" x2="77.36" y2="315.50" stroke="#222222" stroke-width="1.0" />
<line x1="99.29" y1="126.50" x2="99.29" y2="315.50" stroke="#222222" stroke-width="1.0" />
<line x1="121.22" y1="126.50" x2="121.22" y2="315.50" stroke="#222222" stroke-width="1.0" />
<line x1="143.15" y1="126.50" x2="143.15" y2="315.50" stroke="#222222" stroke-width="1.0" />
<line x1="165.08" y1="126.50" x2="165.08" y2="315.50" stroke="#222222" stroke-width="1.0" />
<line x1="187.01" y1="126.50" x2="187.01" y2="315.50" stroke="#222222" stroke-width="1.0" />
<line x1="208.94" y1="126.50" x2="208.94" y2="315.50" stroke="#222222" stroke-width="1.0" />
<line x1="230.87" y1="126.50" x2="230.87" y2="315.50" stroke="#222222" stroke-width="1.0" />
<line x1="252.80" y1="126.50" x2="252.80" y2="315.50" stroke="#222222" stroke-width="1.0" />
<line x1="274.73" y1="126.50" x2="274.73" y2="315.50" stroke="#222222" stroke-width="1.0" />
<line x1="296.66" y1="126.50" x2="296.66" y2="315.50" stroke="#222222" stroke-width="1.0" />
<line x1="318.59" y1="126.50" x2="318.59" y2="315.50" stroke="#222222" stroke-width="1.0" />
<line x1="340.52" y1="126.50" x2="340.52" y2="315.50" stroke="#222222" stroke-width="1.0" />
<line x1="362.45" y1="126.50" x2="362.45" y2="315.50" stroke="#222222" stroke-width="1.0" />
<rect x="33.20" y="126.20" width="329.55" height="189.60" fill="none" stroke="#333" stroke-width="1.3"/>
<text x="432.90" y="111.00" font-size="7.0" fill="#231f20" stroke="#231f20" stroke-width="0.16" textLength="19.90" lengthAdjust="spacingAndGlyphs" >Overall</text>
<line x1="432.90" y1="111.50" x2="452.80" y2="111.50" stroke="#4a4a4a" stroke-width="0.6" />
<text x="394.00" y="123.00" font-size="7.0" fill="#231f20" stroke="#231f20" stroke-width="0.16" textLength="23.60" lengthAdjust="spacingAndGlyphs" >Baseline</text>
<line x1="394.00" y1="123.50" x2="417.60" y2="123.50" stroke="#4a4a4a" stroke-width="0.6" />
<text x="432.90" y="123.00" font-size="7.0" fill="#231f20" stroke="#231f20" stroke-width="0.16" textLength="20.70" lengthAdjust="spacingAndGlyphs" >Week 8</text>
<line x1="432.90" y1="123.50" x2="453.60" y2="123.50" stroke="#4a4a4a" stroke-width="0.6" />
<text x="467.50" y="123.00" font-size="7.0" fill="#231f20" stroke="#231f20" stroke-width="0.16" textLength="23.50" lengthAdjust="spacingAndGlyphs" >Week 16</text>
<line x1="467.50" y1="123.50" x2="491.00" y2="123.50" stroke="#4a4a4a" stroke-width="0.6" />
<rect x="389.50" y="126.50" width="37.00" height="7.88" fill="#ecd9c3" />
<rect x="426.50" y="126.50" width="36.00" height="7.88" fill="#70a95a" />
<rect x="462.50" y="126.50" width="36.00" height="7.88" fill="#70a95a" />
<rect x="390.60" y="127.50" width="34.80" height="5.88" fill="none" stroke="#ffffff" stroke-opacity="0.25" stroke-width="0.8"/>
<text x="401.50" y="133.00" font-size="6.8" fill="#231f20" stroke="#231f20" stroke-width="0.15" textLength="12.60" lengthAdjust="spacingAndGlyphs" >Mild</text>
<rect x="389.50" y="134.38" width="37.00" height="7.88" fill="#d6b692" />
<rect x="426.50" y="134.38" width="36.00" height="7.88" fill="#70a95a" />
<rect x="462.50" y="134.38" width="36.00" height="7.88" fill="#70a95a" />
<rect x="390.60" y="135.38" width="34.80" height="5.88" fill="none" stroke="#ffffff" stroke-opacity="0.25" stroke-width="0.8"/>
<text x="394.00" y="140.88" font-size="6.8" fill="#231f20" stroke="#231f20" stroke-width="0.15" textLength="27.20" lengthAdjust="spacingAndGlyphs" >Moderate</text>
<rect x="389.50" y="142.25" width="37.00" height="7.88" fill="#d6b692" />
<rect x="426.50" y="142.25" width="36.00" height="7.88" fill="#70a95a" />
<rect x="462.50" y="142.25" width="36.00" height="7.88" fill="#70a95a" />
<rect x="390.60" y="143.25" width="34.80" height="5.88" fill="none" stroke="#ffffff" stroke-opacity="0.25" stroke-width="0.8"/>
<text x="394.00" y="148.75" font-size="6.8" fill="#231f20" stroke="#231f20" stroke-width="0.15" textLength="27.20" lengthAdjust="spacingAndGlyphs" >Moderate</text>
<rect x="389.50" y="150.12" width="37.00" height="7.88" fill="#d6b692" />
<rect x="426.50" y="150.12" width="36.00" height="7.88" fill="#70a95a" />
<rect x="462.50" y="150.12" width="36.00" height="7.88" fill="#70a95a" />
<rect x="390.60" y="151.12" width="34.80" height="5.88" fill="none" stroke="#ffffff" stroke-opacity="0.25" stroke-width="0.8"/>
<text x="394.00" y="156.62" font-size="6.8" fill="#231f20" stroke="#231f20" stroke-width="0.15" textLength="27.20" lengthAdjust="spacingAndGlyphs" >Moderate</text>
<rect x="389.50" y="158.00" width="37.00" height="7.88" fill="#d6b692" />
<rect x="426.50" y="158.00" width="36.00" height="7.88" fill="#70a95a" />
<rect x="462.50" y="158.00" width="36.00" height="7.88" fill="#70a95a" />
<rect x="390.60" y="159.00" width="34.80" height="5.88" fill="none" stroke="#ffffff" stroke-opacity="0.25" stroke-width="0.8"/>
<text x="394.00" y="164.50" font-size="6.8" fill="#231f20" stroke="#231f20" stroke-width="0.15" textLength="27.20" lengthAdjust="spacingAndGlyphs" >Moderate</text>
<rect x="389.50" y="165.88" width="37.00" height="7.88" fill="#d6b692" />
<rect x="426.50" y="165.88" width="36.00" height="7.88" fill="#70a95a" />
<rect x="462.50" y="165.88" width="36.00" height="7.88" fill="#cdcacd" />
<rect x="390.60" y="166.88" width="34.80" height="5.88" fill="none" stroke="#ffffff" stroke-opacity="0.25" stroke-width="0.8"/>
<text x="394.00" y="172.38" font-size="6.8" fill="#231f20" stroke="#231f20" stroke-width="0.15" textLength="27.20" lengthAdjust="spacingAndGlyphs" >Moderate</text>
<rect x="389.50" y="173.75" width="37.00" height="7.88" fill="#a97945" />
<rect x="426.50" y="173.75" width="36.00" height="7.88" fill="#70a95a" />
<rect x="462.50" y="173.75" width="36.00" height="7.88" fill="#70a95a" />
<rect x="390.60" y="174.75" width="34.80" height="5.88" fill="none" stroke="#ffffff" stroke-opacity="0.25" stroke-width="0.8"/>
<text x="397.00" y="180.25" font-size="6.8" fill="#231f20" stroke="#231f20" stroke-width="0.15" textLength="19.00" lengthAdjust="spacingAndGlyphs" >Severe</text>
<rect x="389.50" y="181.62" width="37.00" height="7.88" fill="#d6b692" />
<rect x="426.50" y="181.62" width="36.00" height="7.88" fill="#efbf47" />
<rect x="462.50" y="181.62" width="36.00" height="7.88" fill="#70a95a" />
<rect x="390.60" y="182.62" width="34.80" height="5.88" fill="none" stroke="#ffffff" stroke-opacity="0.25" stroke-width="0.8"/>
<text x="394.00" y="188.12" font-size="6.8" fill="#231f20" stroke="#231f20" stroke-width="0.15" textLength="27.20" lengthAdjust="spacingAndGlyphs" >Moderate</text>
<rect x="389.50" y="189.50" width="37.00" height="7.88" fill="#a97945" />
<rect x="426.50" y="189.50" width="36.00" height="7.88" fill="#efbf47" />
<rect x="462.50" y="189.50" width="36.00" height="7.88" fill="#70a95a" />
<rect x="390.60" y="190.50" width="34.80" height="5.88" fill="none" stroke="#ffffff" stroke-opacity="0.25" stroke-width="0.8"/>
<text x="397.00" y="196.00" font-size="6.8" fill="#231f20" stroke="#231f20" stroke-width="0.15" textLength="19.00" lengthAdjust="spacingAndGlyphs" >Severe</text>
<rect x="389.50" y="197.38" width="37.00" height="7.88" fill="#d6b692" />
<rect x="426.50" y="197.38" width="36.00" height="7.88" fill="#efbf47" />
<rect x="462.50" y="197.38" width="36.00" height="7.88" fill="#70a95a" />
<rect x="390.60" y="198.38" width="34.80" height="5.88" fill="none" stroke="#ffffff" stroke-opacity="0.25" stroke-width="0.8"/>
<text x="394.00" y="203.88" font-size="6.8" fill="#231f20" stroke="#231f20" stroke-width="0.15" textLength="27.20" lengthAdjust="spacingAndGlyphs" >Moderate</text>
<rect x="389.50" y="205.25" width="37.00" height="7.88" fill="#d6b692" />
<rect x="426.50" y="205.25" width="36.00" height="7.88" fill="#efbf47" />
<rect x="462.50" y="205.25" width="36.00" height="7.88" fill="#70a95a" />
<rect x="390.60" y="206.25" width="34.80" height="5.88" fill="none" stroke="#ffffff" stroke-opacity="0.25" stroke-width="0.8"/>
<text x="394.00" y="211.75" font-size="6.8" fill="#231f20" stroke="#231f20" stroke-width="0.15" textLength="27.20" lengthAdjust="spacingAndGlyphs" >Moderate</text>
<rect x="389.50" y="213.12" width="37.00" height="7.88" fill="#d6b692" />
<rect x="426.50" y="213.12" width="36.00" height="7.88" fill="#efbf47" />
<rect x="462.50" y="213.12" width="36.00" height="7.88" fill="#70a95a" />
<rect x="390.60" y="214.12" width="34.80" height="5.88" fill="none" stroke="#ffffff" stroke-opacity="0.25" stroke-width="0.8"/>
<text x="394.00" y="219.62" font-size="6.8" fill="#231f20" stroke="#231f20" stroke-width="0.15" textLength="27.20" lengthAdjust="spacingAndGlyphs" >Moderate</text>
<rect x="389.50" y="221.00" width="37.00" height="7.88" fill="#d6b692" />
<rect x="426.50" y="221.00" width="36.00" height="7.88" fill="#efbf47" />
<rect x="462.50" y="221.00" width="36.00" height="7.88" fill="#70a95a" />
<rect x="390.60" y="222.00" width="34.80" height="5.88" fill="none" stroke="#ffffff" stroke-opacity="0.25" stroke-width="0.8"/>
<text x="394.00" y="227.50" font-size="6.8" fill="#231f20" stroke="#231f20" stroke-width="0.15" textLength="27.20" lengthAdjust="spacingAndGlyphs" >Moderate</text>
<rect x="389.50" y="228.88" width="37.00" height="7.88" fill="#d6b692" />
<rect x="426.50" y="228.88" width="36.00" height="7.88" fill="#efbf47" />
<rect x="462.50" y="228.88" width="36.00" height="7.88" fill="#70a95a" />
<rect x="390.60" y="229.88" width="34.80" height="5.88" fill="none" stroke="#ffffff" stroke-opacity="0.25" stroke-width="0.8"/>
<text x="394.00" y="235.38" font-size="6.8" fill="#231f20" stroke="#231f20" stroke-width="0.15" textLength="27.20" lengthAdjust="spacingAndGlyphs" >Moderate</text>
<rect x="389.50" y="236.75" width="37.00" height="7.88" fill="#d6b692" />
<rect x="426.50" y="236.75" width="36.00" height="7.88" fill="#efbf47" />
<rect x="462.50" y="236.75" width="36.00" height="7.88" fill="#efbf47" />
<rect x="390.60" y="237.75" width="34.80" height="5.88" fill="none" stroke="#ffffff" stroke-opacity="0.25" stroke-width="0.8"/>
<text x="394.00" y="243.25" font-size="6.8" fill="#231f20" stroke="#231f20" stroke-width="0.15" textLength="27.20" lengthAdjust="spacingAndGlyphs" >Moderate</text>
<rect x="389.50" y="244.62" width="37.00" height="7.88" fill="#d6b692" />
<rect x="426.50" y="244.62" width="36.00" height="7.88" fill="#efbf47" />
<rect x="462.50" y="244.62" width="36.00" height="7.88" fill="#efbf47" />
<rect x="390.60" y="245.62" width="34.80" height="5.88" fill="none" stroke="#ffffff" stroke-opacity="0.25" stroke-width="0.8"/>
<text x="394.00" y="251.12" font-size="6.8" fill="#231f20" stroke="#231f20" stroke-width="0.15" textLength="27.20" lengthAdjust="spacingAndGlyphs" >Moderate</text>
<rect x="389.50" y="252.50" width="37.00" height="7.88" fill="#d6b692" />
<rect x="426.50" y="252.50" width="36.00" height="7.88" fill="#efbf47" />
<rect x="462.50" y="252.50" width="36.00" height="7.88" fill="#efbf47" />
<rect x="390.60" y="253.50" width="34.80" height="5.88" fill="none" stroke="#ffffff" stroke-opacity="0.25" stroke-width="0.8"/>
<text x="394.00" y="259.00" font-size="6.8" fill="#231f20" stroke="#231f20" stroke-width="0.15" textLength="27.20" lengthAdjust="spacingAndGlyphs" >Moderate</text>
<rect x="389.50" y="260.38" width="37.00" height="7.88" fill="#a97945" />
<rect x="426.50" y="260.38" width="36.00" height="7.88" fill="#efbf47" />
<rect x="462.50" y="260.38" width="36.00" height="7.88" fill="#efbf47" />
<rect x="390.60" y="261.38" width="34.80" height="5.88" fill="none" stroke="#ffffff" stroke-opacity="0.25" stroke-width="0.8"/>
<text x="397.00" y="266.88" font-size="6.8" fill="#231f20" stroke="#231f20" stroke-width="0.15" textLength="19.00" lengthAdjust="spacingAndGlyphs" >Severe</text>
<rect x="389.50" y="268.25" width="37.00" height="7.88" fill="#d6b692" />
<rect x="426.50" y="268.25" width="36.00" height="7.88" fill="#efbf47" />
<rect x="462.50" y="268.25" width="36.00" height="7.88" fill="#efbf47" />
<rect x="390.60" y="269.25" width="34.80" height="5.88" fill="none" stroke="#ffffff" stroke-opacity="0.25" stroke-width="0.8"/>
<text x="394.00" y="274.75" font-size="6.8" fill="#231f20" stroke="#231f20" stroke-width="0.15" textLength="27.20" lengthAdjust="spacingAndGlyphs" >Moderate</text>
<rect x="389.50" y="276.12" width="37.00" height="7.88" fill="#d6b692" />
<rect x="426.50" y="276.12" width="36.00" height="7.88" fill="#efbf47" />
<rect x="462.50" y="276.12" width="36.00" height="7.88" fill="#efbf47" />
<rect x="390.60" y="277.12" width="34.80" height="5.88" fill="none" stroke="#ffffff" stroke-opacity="0.25" stroke-width="0.8"/>
<text x="394.00" y="282.62" font-size="6.8" fill="#231f20" stroke="#231f20" stroke-width="0.15" textLength="27.20" lengthAdjust="spacingAndGlyphs" >Moderate</text>
<rect x="389.50" y="284.00" width="37.00" height="7.88" fill="#d6b692" />
<rect x="426.50" y="284.00" width="36.00" height="7.88" fill="#efbf47" />
<rect x="462.50" y="284.00" width="36.00" height="7.88" fill="#a53646" />
<rect x="390.60" y="285.00" width="34.80" height="5.88" fill="none" stroke="#ffffff" stroke-opacity="0.25" stroke-width="0.8"/>
<text x="394.00" y="290.50" font-size="6.8" fill="#231f20" stroke="#231f20" stroke-width="0.15" textLength="27.20" lengthAdjust="spacingAndGlyphs" >Moderate</text>
<rect x="389.50" y="291.88" width="37.00" height="7.88" fill="#a97945" />
<rect x="426.50" y="291.88" width="36.00" height="7.88" fill="#efbf47" />
<rect x="462.50" y="291.88" width="36.00" height="7.88" fill="#a53646" />
<rect x="390.60" y="292.88" width="34.80" height="5.88" fill="none" stroke="#ffffff" stroke-opacity="0.25" stroke-width="0.8"/>
<text x="397.00" y="298.38" font-size="6.8" fill="#231f20" stroke="#231f20" stroke-width="0.15" textLength="19.00" lengthAdjust="spacingAndGlyphs" >Severe</text>
<rect x="389.50" y="299.75" width="37.00" height="7.88" fill="#d6b692" />
<rect x="426.50" y="299.75" width="36.00" height="7.88" fill="#efbf47" />
<rect x="462.50" y="299.75" width="36.00" height="7.88" fill="#cdcacd" />
<rect x="390.60" y="300.75" width="34.80" height="5.88" fill="none" stroke="#ffffff" stroke-opacity="0.25" stroke-width="0.8"/>
<text x="394.00" y="306.25" font-size="6.8" fill="#231f20" stroke="#231f20" stroke-width="0.15" textLength="27.20" lengthAdjust="spacingAndGlyphs" >Moderate</text>
<rect x="389.50" y="307.62" width="37.00" height="7.88" fill="#a97945" />
<rect x="426.50" y="307.62" width="36.00" height="7.88" fill="#efbf47" />
<rect x="462.50" y="307.62" width="36.00" height="7.88" fill="#cdcacd" />
<rect x="390.60" y="308.62" width="34.80" height="5.88" fill="none" stroke="#ffffff" stroke-opacity="0.25" stroke-width="0.8"/>
<text x="397.00" y="314.12" font-size="6.8" fill="#231f20" stroke="#231f20" stroke-width="0.15" textLength="19.00" lengthAdjust="spacingAndGlyphs" >Severe</text>
<line x1="389.50" y1="126.50" x2="498.50" y2="126.50" stroke="#222222" stroke-width="0.9" />
<line x1="389.50" y1="134.38" x2="498.50" y2="134.38" stroke="#222222" stroke-width="0.9" />
<line x1="389.50" y1="142.25" x2="498.50" y2="142.25" stroke="#222222" stroke-width="0.9" />
<line x1="389.50" y1="150.12" x2="498.50" y2="150.12" stroke="#222222" stroke-width="0.9" />
<line x1="389.50" y1="158.00" x2="498.50" y2="158.00" stroke="#222222" stroke-width="0.9" />
<line x1="389.50" y1="165.88" x2="498.50" y2="165.88" stroke="#222222" stroke-width="0.9" />
<line x1="389.50" y1="173.75" x2="498.50" y2="173.75" stroke="#222222" stroke-width="0.9" />
<line x1="389.50" y1="181.62" x2="498.50" y2="181.62" stroke="#222222" stroke-width="0.9" />
<line x1="389.50" y1="189.50" x2="498.50" y2="189.50" stroke="#222222" stroke-width="0.9" />
<line x1="389.50" y1="197.38" x2="498.50" y2="197.38" stroke="#222222" stroke-width="0.9" />
<line x1="389.50" y1="205.25" x2="498.50" y2="205.25" stroke="#222222" stroke-width="0.9" />
<line x1="389.50" y1="213.12" x2="498.50" y2="213.12" stroke="#222222" stroke-width="0.9" />
<line x1="389.50" y1="221.00" x2="498.50" y2="221.00" stroke="#222222" stroke-width="0.9" />
<line x1="389.50" y1="228.88" x2="498.50" y2="228.88" stroke="#222222" stroke-width="0.9" />
<line x1="389.50" y1="236.75" x2="498.50" y2="236.75" stroke="#222222" stroke-width="0.9" />
<line x1="389.50" y1="244.62" x2="498.50" y2="244.62" stroke="#222222" stroke-width="0.9" />
<line x1="389.50" y1="252.50" x2="498.50" y2="252.50" stroke="#222222" stroke-width="0.9" />
<line x1="389.50" y1="260.38" x2="498.50" y2="260.38" stroke="#222222" stroke-width="0.9" />
<line x1="389.50" y1="268.25" x2="498.50" y2="268.25" stroke="#222222" stroke-width="0.9" />
<line x1="389.50" y1="276.12" x2="498.50" y2="276.12" stroke="#222222" stroke-width="0.9" />
<line x1="389.50" y1="284.00" x2="498.50" y2="284.00" stroke="#222222" stroke-width="0.9" />
<line x1="389.50" y1="291.88" x2="498.50" y2="291.88" stroke="#222222" stroke-width="0.9" />
<line x1="389.50" y1="299.75" x2="498.50" y2="299.75" stroke="#222222" stroke-width="0.9" />
<line x1="389.50" y1="307.62" x2="498.50" y2="307.62" stroke="#222222" stroke-width="0.9" />
<line x1="389.50" y1="315.50" x2="498.50" y2="315.50" stroke="#222222" stroke-width="0.9" />
<line x1="389.50" y1="126.50" x2="389.50" y2="315.50" stroke="#222222" stroke-width="1.0" />
<line x1="426.50" y1="126.50" x2="426.50" y2="315.50" stroke="#222222" stroke-width="1.0" />
<line x1="462.50" y1="126.50" x2="462.50" y2="315.50" stroke="#222222" stroke-width="1.0" />
<line x1="498.50" y1="126.50" x2="498.50" y2="315.50" stroke="#222222" stroke-width="1.0" />
<text x="169.20" y="327.00" font-size="7.0" fill="#231f20" stroke="#231f20" stroke-width="0.16" textLength="48.40" lengthAdjust="spacingAndGlyphs" >Site-specific score</text>
<line x1="169.20" y1="327.50" x2="217.60" y2="327.50" stroke="#4a4a4a" stroke-width="0.6" />
<rect x="164.60" y="332.80" width="66.20" height="8.20" fill="#dcdbe4" />
<rect x="165.70" y="333.80" width="64.00" height="6.20" fill="none" stroke="#ffffff" stroke-opacity="0.3" stroke-width="0.8"/>
<text x="197.70" y="339.40" font-size="6.8" fill="#231f20" stroke="#231f20" stroke-width="0.16" text-anchor="middle" >0</text>
<rect x="164.60" y="341.00" width="66.20" height="8.20" fill="#ecd9c3" />
<rect x="165.70" y="342.00" width="64.00" height="6.20" fill="none" stroke="#ffffff" stroke-opacity="0.3" stroke-width="0.8"/>
<text x="197.70" y="347.60" font-size="6.8" fill="#231f20" stroke="#231f20" stroke-width="0.16" text-anchor="middle" >1</text>
<rect x="164.60" y="349.20" width="66.20" height="8.20" fill="#d6b692" />
<rect x="165.70" y="350.20" width="64.00" height="6.20" fill="none" stroke="#ffffff" stroke-opacity="0.3" stroke-width="0.8"/>
<text x="197.70" y="355.80" font-size="6.8" fill="#231f20" stroke="#231f20" stroke-width="0.16" text-anchor="middle" >2</text>
<rect x="164.60" y="357.40" width="66.20" height="8.20" fill="#a97945" />
<rect x="165.70" y="358.40" width="64.00" height="6.20" fill="none" stroke="#ffffff" stroke-opacity="0.3" stroke-width="0.8"/>
<text x="197.70" y="364.00" font-size="6.8" fill="#231f20" stroke="#231f20" stroke-width="0.16" text-anchor="middle" >3</text>
<rect x="164.60" y="365.60" width="66.20" height="8.20" fill="#ccc6c8" />
<rect x="165.70" y="366.60" width="64.00" height="6.20" fill="none" stroke="#ffffff" stroke-opacity="0.3" stroke-width="0.8"/>
<text x="177.40" y="372.20" font-size="6.8" fill="#231f20" stroke="#231f20" stroke-width="0.1" textLength="39.20" lengthAdjust="spacingAndGlyphs" >Not evaluable</text>
<line x1="164.60" y1="332.80" x2="230.80" y2="332.80" stroke="#222222" stroke-width="0.9" />
<line x1="164.60" y1="341.00" x2="230.80" y2="341.00" stroke="#555" stroke-width="0.6" />
<line x1="164.60" y1="349.20" x2="230.80" y2="349.20" stroke="#555" stroke-width="0.6" />
<line x1="164.60" y1="357.40" x2="230.80" y2="357.40" stroke="#555" stroke-width="0.6" />
<line x1="164.60" y1="365.60" x2="230.80" y2="365.60" stroke="#555" stroke-width="0.6" />
<line x1="164.60" y1="373.80" x2="230.80" y2="373.80" stroke="#222222" stroke-width="0.9" />
<line x1="164.60" y1="332.80" x2="164.60" y2="373.80" stroke="#222222" stroke-width="0.9" />
<line x1="230.80" y1="332.80" x2="230.80" y2="373.80" stroke="#222222" stroke-width="0.9" />
<text x="369.60" y="327.00" font-size="7.0" fill="#231f20" stroke="#231f20" stroke-width="0.16" textLength="42.30" lengthAdjust="spacingAndGlyphs" >cGVHD severity</text>
<line x1="369.60" y1="327.50" x2="411.90" y2="327.50" stroke="#4a4a4a" stroke-width="0.6" />
<rect x="362.00" y="332.70" width="64.50" height="8.40" fill="#ecdac8" />
<rect x="363.10" y="333.70" width="62.30" height="6.40" fill="none" stroke="#ffffff" stroke-opacity="0.3" stroke-width="0.8"/>
<text x="387.25" y="339.60" font-size="6.8" fill="#231f20" stroke="#231f20" stroke-width="0.12" textLength="14.00" lengthAdjust="spacingAndGlyphs" style="font-style:italic">Mild</text>
<rect x="362.00" y="341.10" width="64.50" height="8.20" fill="#dbbf9f" />
<rect x="363.10" y="342.10" width="62.30" height="6.20" fill="none" stroke="#ffffff" stroke-opacity="0.3" stroke-width="0.8"/>
<text x="380.50" y="348.00" font-size="6.8" fill="#231f20" stroke="#231f20" stroke-width="0.12" textLength="27.50" lengthAdjust="spacingAndGlyphs" >Moderate</text>
<rect x="362.00" y="349.30" width="64.50" height="8.40" fill="#ae7b45" />
<rect x="363.10" y="350.30" width="62.30" height="6.40" fill="none" stroke="#ffffff" stroke-opacity="0.3" stroke-width="0.8"/>
<text x="384.75" y="356.20" font-size="6.8" fill="#231f20" stroke="#231f20" stroke-width="0.12" textLength="19.00" lengthAdjust="spacingAndGlyphs" >Severe</text>
<line x1="362.00" y1="332.70" x2="426.50" y2="332.70" stroke="#222222" stroke-width="0.9" />
<line x1="362.00" y1="341.10" x2="426.50" y2="341.10" stroke="#555" stroke-width="0.6" />
<line x1="362.00" y1="349.30" x2="426.50" y2="349.30" stroke="#555" stroke-width="0.6" />
<line x1="362.00" y1="357.70" x2="426.50" y2="357.70" stroke="#222222" stroke-width="0.9" />
<line x1="362.00" y1="332.70" x2="362.00" y2="357.70" stroke="#222222" stroke-width="0.9" />
<line x1="426.50" y1="332.70" x2="426.50" y2="357.70" stroke="#222222" stroke-width="0.9" />
<text x="449.80" y="327.10" font-size="7.0" fill="#231f20" stroke="#231f20" stroke-width="0.16" textLength="45.80" lengthAdjust="spacingAndGlyphs" >Overall response</text>
<line x1="449.80" y1="327.60" x2="495.60" y2="327.60" stroke="#4a4a4a" stroke-width="0.6" />
<rect x="444.30" y="332.90" width="63.50" height="8.20" fill="#70a95a" />
<text x="452.30" y="339.40" font-size="6.8" fill="#231f20" stroke="#231f20" stroke-width="0.08" textLength="44.00" lengthAdjust="spacingAndGlyphs" >Partial response</text>
<rect x="444.30" y="341.10" width="63.50" height="7.90" fill="#efbf47" />
<text x="454.40" y="347.60" font-size="6.8" fill="#231f20" stroke="#231f20" stroke-width="0.08" textLength="40.10" lengthAdjust="spacingAndGlyphs" >Stable disease</text>
<rect x="444.30" y="349.00" width="63.50" height="8.00" fill="#a53646" />
<text x="447.00" y="355.50" font-size="6.8" fill="#ffffff" stroke="#ffffff" stroke-width="0.08" textLength="53.00" lengthAdjust="spacingAndGlyphs" >Progressive disease</text>
<rect x="444.30" y="357.00" width="63.50" height="8.00" fill="#cdcacd" />
<text x="455.90" y="363.50" font-size="6.8" fill="#231f20" stroke="#231f20" stroke-width="0.08" textLength="38.90" lengthAdjust="spacingAndGlyphs" >Not evaluable</text>
<line x1="444.30" y1="332.90" x2="507.80" y2="332.90" stroke="#222222" stroke-width="0.9" />
<line x1="444.30" y1="341.10" x2="507.80" y2="341.10" stroke="#444" stroke-width="0.6" />
<line x1="444.30" y1="349.00" x2="507.80" y2="349.00" stroke="#444" stroke-width="0.6" />
<line x1="444.30" y1="357.00" x2="507.80" y2="357.00" stroke="#444" stroke-width="0.6" />
<line x1="444.30" y1="365.00" x2="507.80" y2="365.00" stroke="#222222" stroke-width="0.9" />
<line x1="444.30" y1="332.90" x2="444.30" y2="365.00" stroke="#222222" stroke-width="0.9" />
<line x1="507.80" y1="332.90" x2="507.80" y2="365.00" stroke="#222222" stroke-width="0.9" />
<text x="8.20" y="400.20" font-size="11.6" fill="#231f20" stroke="#231f20" stroke-width="0.05" textLength="7.40" lengthAdjust="spacingAndGlyphs" >C</text>
<path d="M56.00,409.6 L237.51,409.6 L237.51,549.60" fill="none" stroke="#231f20" stroke-width="1.1"/>
<path d="M56.00,410.60 L66.40,410.60 L66.40,416.39 L80.80,416.39 L80.80,422.18 L81.70,422.18 L81.70,427.98 L85.70,427.98 L85.70,433.77 L109.50,433.77 L109.50,439.56 L228.30,439.56" fill="none" stroke="#7ab463" stroke-width="1.25" stroke-linejoin="miter"/>
<line x1="117.50" y1="437.16" x2="117.50" y2="441.96" stroke="#7ab463" stroke-width="0.9" stroke-opacity="0.75"/>
<line x1="124.20" y1="437.16" x2="124.20" y2="441.96" stroke="#7ab463" stroke-width="0.9" stroke-opacity="0.75"/>
<line x1="147.10" y1="437.16" x2="147.10" y2="441.96" stroke="#7ab463" stroke-width="0.9" stroke-opacity="0.75"/>
<line x1="149.10" y1="437.16" x2="149.10" y2="441.96" stroke="#7ab463" stroke-width="0.9" stroke-opacity="0.75"/>
<line x1="155.90" y1="437.16" x2="155.90" y2="441.96" stroke="#7ab463" stroke-width="0.9" stroke-opacity="0.75"/>
<line x1="165.50" y1="437.16" x2="165.50" y2="441.96" stroke="#7ab463" stroke-width="0.9" stroke-opacity="0.75"/>
<line x1="173.30" y1="437.16" x2="173.30" y2="441.96" stroke="#7ab463" stroke-width="0.9" stroke-opacity="0.75"/>
<line x1="174.40" y1="437.16" x2="174.40" y2="441.96" stroke="#7ab463" stroke-width="0.9" stroke-opacity="0.75"/>
<line x1="178.50" y1="437.16" x2="178.50" y2="441.96" stroke="#7ab463" stroke-width="0.9" stroke-opacity="0.75"/>
<line x1="183.20" y1="437.16" x2="183.20" y2="441.96" stroke="#7ab463" stroke-width="0.9" stroke-opacity="0.75"/>
<line x1="185.50" y1="437.16" x2="185.50" y2="441.96" stroke="#7ab463" stroke-width="0.9" stroke-opacity="0.75"/>
<line x1="186.60" y1="437.16" x2="186.60" y2="441.96" stroke="#7ab463" stroke-width="0.9" stroke-opacity="0.75"/>
<line x1="195.70" y1="437.16" x2="195.70" y2="441.96" stroke="#7ab463" stroke-width="0.9" stroke-opacity="0.75"/>
<line x1="197.30" y1="437.16" x2="197.30" y2="441.96" stroke="#7ab463" stroke-width="0.9" stroke-opacity="0.75"/>
<line x1="205.40" y1="437.16" x2="205.40" y2="441.96" stroke="#7ab463" stroke-width="0.9" stroke-opacity="0.75"/>
<line x1="226.80" y1="437.16" x2="226.80" y2="441.96" stroke="#7ab463" stroke-width="0.9" stroke-opacity="0.75"/>
<path d="M56.00,410.60 L66.40,410.60 L66.40,416.39 L80.80,416.39 L80.80,422.18 L81.70,422.18 L81.70,427.98 L85.70,427.98 L85.70,433.77 L89.30,433.77 L89.30,439.56 L109.50,439.56 L109.50,445.35 L110.20,445.35" fill="none" stroke="#ad2a3c" stroke-width="1.25" stroke-linejoin="miter"/>
<path d="M56.00,410.60 L66.40,410.60 L66.40,416.39 L76.30,416.39 L76.30,422.18 L77.20,422.18 L77.20,427.98 L80.80,427.98 L80.80,433.77 L81.70,433.77 L81.70,439.56 L85.70,439.56 L85.70,445.35 L228.30,445.35" fill="none" stroke="#34508a" stroke-width="1.25" stroke-linejoin="miter"/>
<line x1="124.20" y1="442.95" x2="124.20" y2="447.75" stroke="#34508a" stroke-width="0.9" stroke-opacity="0.75"/>
<line x1="147.10" y1="442.95" x2="147.10" y2="447.75" stroke="#34508a" stroke-width="0.9" stroke-opacity="0.75"/>
<line x1="149.10" y1="442.95" x2="149.10" y2="447.75" stroke="#34508a" stroke-width="0.9" stroke-opacity="0.75"/>
<line x1="155.90" y1="442.95" x2="155.90" y2="447.75" stroke="#34508a" stroke-width="0.9" stroke-opacity="0.75"/>
<line x1="165.50" y1="442.95" x2="165.50" y2="447.75" stroke="#34508a" stroke-width="0.9" stroke-opacity="0.75"/>
<line x1="173.30" y1="442.95" x2="173.30" y2="447.75" stroke="#34508a" stroke-width="0.9" stroke-opacity="0.75"/>
<line x1="174.40" y1="442.95" x2="174.40" y2="447.75" stroke="#34508a" stroke-width="0.9" stroke-opacity="0.75"/>
<line x1="178.50" y1="442.95" x2="178.50" y2="447.75" stroke="#34508a" stroke-width="0.9" stroke-opacity="0.75"/>
<line x1="183.20" y1="442.95" x2="183.20" y2="447.75" stroke="#34508a" stroke-width="0.9" stroke-opacity="0.75"/>
<line x1="185.50" y1="442.95" x2="185.50" y2="447.75" stroke="#34508a" stroke-width="0.9" stroke-opacity="0.75"/>
<line x1="186.60" y1="442.95" x2="186.60" y2="447.75" stroke="#34508a" stroke-width="0.9" stroke-opacity="0.75"/>
<line x1="195.70" y1="442.95" x2="195.70" y2="447.75" stroke="#34508a" stroke-width="0.9" stroke-opacity="0.75"/>
<line x1="197.30" y1="442.95" x2="197.30" y2="447.75" stroke="#34508a" stroke-width="0.9" stroke-opacity="0.75"/>
<line x1="205.40" y1="442.95" x2="205.40" y2="447.75" stroke="#34508a" stroke-width="0.9" stroke-opacity="0.75"/>
<line x1="226.80" y1="442.95" x2="226.80" y2="447.75" stroke="#34508a" stroke-width="0.9" stroke-opacity="0.75"/>
<path d="M56.00,409.1 L56.00,549.80 L238.01,549.80" fill="none" stroke="#3a3a3a" stroke-width="1.7"/>
<line x1="52.60" y1="549.60" x2="56.00" y2="549.60" stroke="#231f20" stroke-width="1.0" />
<text x="49.40" y="552.10" font-size="7.6" fill="#231f20" stroke="#231f20" stroke-width="0.15" text-anchor="end" textLength="9.80" lengthAdjust="spacingAndGlyphs" style="font-family:&quot;Liberation Serif&quot;,serif">0.0</text>
<line x1="52.60" y1="521.80" x2="56.00" y2="521.80" stroke="#231f20" stroke-width="1.0" />
<text x="49.40" y="524.30" font-size="7.6" fill="#231f20" stroke="#231f20" stroke-width="0.15" text-anchor="end" textLength="9.80" lengthAdjust="spacingAndGlyphs" style="font-family:&quot;Liberation Serif&quot;,serif">0.2</text>
<line x1="52.60" y1="494.00" x2="56.00" y2="494.00" stroke="#231f20" stroke-width="1.0" />
<text x="49.40" y="496.50" font-size="7.6" fill="#231f20" stroke="#231f20" stroke-width="0.15" text-anchor="end" textLength="9.80" lengthAdjust="spacingAndGlyphs" style="font-family:&quot;Liberation Serif&quot;,serif">0.4</text>
<line x1="52.60" y1="466.20" x2="56.00" y2="466.20" stroke="#231f20" stroke-width="1.0" />
<text x="49.40" y="468.70" font-size="7.6" fill="#231f20" stroke="#231f20" stroke-width="0.15" text-anchor="end" textLength="9.80" lengthAdjust="spacingAndGlyphs" style="font-family:&quot;Liberation Serif&quot;,serif">0.6</text>
<line x1="52.60" y1="438.40" x2="56.00" y2="438.40" stroke="#231f20" stroke-width="1.0" />
<text x="49.40" y="440.90" font-size="7.6" fill="#231f20" stroke="#231f20" stroke-width="0.15" text-anchor="end" textLength="9.80" lengthAdjust="spacingAndGlyphs" style="font-family:&quot;Liberation Serif&quot;,serif">0.8</text>
<line x1="52.60" y1="410.60" x2="56.00" y2="410.60" stroke="#231f20" stroke-width="1.0" />
<text x="49.40" y="413.10" font-size="7.6" fill="#231f20" stroke="#231f20" stroke-width="0.15" text-anchor="end" textLength="9.80" lengthAdjust="spacingAndGlyphs" style="font-family:&quot;Liberation Serif&quot;,serif">1.0</text>
<line x1="56.00" y1="549.60" x2="56.00" y2="552.80" stroke="#231f20" stroke-width="1.0" />
<text x="56.00" y="562.20" font-size="7.8" fill="#231f20" stroke="#231f20" stroke-width="0.16" text-anchor="middle" >0</text>
<line x1="86.25" y1="549.60" x2="86.25" y2="552.80" stroke="#231f20" stroke-width="1.0" />
<text x="86.25" y="562.20" font-size="7.8" fill="#231f20" stroke="#231f20" stroke-width="0.16" text-anchor="middle" >6</text>
<line x1="116.50" y1="549.60" x2="116.50" y2="552.80" stroke="#231f20" stroke-width="1.0" />
<text x="116.50" y="562.20" font-size="7.8" fill="#231f20" stroke="#231f20" stroke-width="0.16" text-anchor="middle" >12</text>
<line x1="146.76" y1="549.60" x2="146.76" y2="552.80" stroke="#231f20" stroke-width="1.0" />
<text x="146.76" y="562.20" font-size="7.8" fill="#231f20" stroke="#231f20" stroke-width="0.16" text-anchor="middle" >18</text>
<line x1="177.01" y1="549.60" x2="177.01" y2="552.80" stroke="#231f20" stroke-width="1.0" />
<text x="177.01" y="562.20" font-size="7.8" fill="#231f20" stroke="#231f20" stroke-width="0.16" text-anchor="middle" >24</text>
<line x1="207.26" y1="549.60" x2="207.26" y2="552.80" stroke="#231f20" stroke-width="1.0" />
<text x="207.26" y="562.20" font-size="7.8" fill="#231f20" stroke="#231f20" stroke-width="0.16" text-anchor="middle" >30</text>
<line x1="237.51" y1="549.60" x2="237.51" y2="552.80" stroke="#231f20" stroke-width="1.0" />
<text x="237.51" y="562.20" font-size="7.8" fill="#231f20" stroke="#231f20" stroke-width="0.16" text-anchor="middle" >36</text>
<text x="95.60" y="575.90" font-size="10.1" fill="#231f20" stroke="#231f20" stroke-width="0.12" textLength="101.80" lengthAdjust="spacingAndGlyphs" >Months from study entry</text>
<text x="0" y="0" font-size="10.0" fill="#231f20" textLength="44.2" lengthAdjust="spacingAndGlyphs" stroke="#231f20" stroke-width="0.12" transform="translate(32.10,501.8) rotate(-90)">Probability</text>
<line x1="63.20" y1="522.70" x2="78.50" y2="522.70" stroke="#7ab463" stroke-width="1.7" />
<text x="81.60" y="525.60" font-size="7.2" fill="#231f20" stroke="#231f20" stroke-width="0.16" textLength="9.20" lengthAdjust="spacingAndGlyphs" >OS</text>
<line x1="63.20" y1="531.30" x2="78.50" y2="531.30" stroke="#ad2a3c" stroke-width="1.7" />
<text x="81.60" y="534.20" font-size="7.2" fill="#231f20" stroke="#231f20" stroke-width="0.16" textLength="11.50" lengthAdjust="spacingAndGlyphs" >PFS</text>
<line x1="63.20" y1="540.20" x2="78.50" y2="540.20" stroke="#34508a" stroke-width="1.7" />
<text x="81.60" y="543.10" font-size="7.2" fill="#231f20" stroke="#231f20" stroke-width="0.16" textLength="15.90" lengthAdjust="spacingAndGlyphs" >CPFS</text>
<text x="8.70" y="587.60" font-size="7.2" fill="#231f20" stroke="#231f20" stroke-width="0.16" textLength="35.00" lengthAdjust="spacingAndGlyphs" >No. at Risk</text>
<text x="31.80" y="600.10" font-size="7.3" fill="#231f20" stroke="#231f20" stroke-width="0.16" textLength="11.10" lengthAdjust="spacingAndGlyphs" >OS:</text>
<text x="56.00" y="600.10" font-size="7.3" fill="#231f20" stroke="#231f20" stroke-width="0.16" text-anchor="middle" >24</text>
<text x="86.25" y="600.10" font-size="7.3" fill="#231f20" stroke="#231f20" stroke-width="0.16" text-anchor="middle" >20</text>
<text x="116.50" y="600.10" font-size="7.3" fill="#231f20" stroke="#231f20" stroke-width="0.16" text-anchor="middle" >19</text>
<text x="146.76" y="600.10" font-size="7.3" fill="#231f20" stroke="#231f20" stroke-width="0.16" text-anchor="middle" >17</text>
<text x="177.01" y="600.10" font-size="7.3" fill="#231f20" stroke="#231f20" stroke-width="0.16" text-anchor="middle" >9</text>
<text x="207.26" y="600.10" font-size="7.3" fill="#231f20" stroke="#231f20" stroke-width="0.16" text-anchor="middle" >1</text>
<text x="28.90" y="611.90" font-size="7.3" fill="#231f20" stroke="#231f20" stroke-width="0.16" textLength="13.20" lengthAdjust="spacingAndGlyphs" >PFS:</text>
<text x="56.00" y="611.90" font-size="7.3" fill="#231f20" stroke="#231f20" stroke-width="0.16" text-anchor="middle" >24</text>
<text x="86.25" y="611.90" font-size="7.3" fill="#231f20" stroke="#231f20" stroke-width="0.16" text-anchor="middle" >20</text>
<text x="116.50" y="611.90" font-size="7.3" fill="#231f20" stroke="#231f20" stroke-width="0.16" text-anchor="middle" >18</text>
<text x="146.76" y="611.90" font-size="7.3" fill="#231f20" stroke="#231f20" stroke-width="0.16" text-anchor="middle" >17</text>
<text x="177.01" y="611.90" font-size="7.3" fill="#231f20" stroke="#231f20" stroke-width="0.16" text-anchor="middle" >9</text>
<text x="207.26" y="611.90" font-size="7.3" fill="#231f20" stroke="#231f20" stroke-width="0.16" text-anchor="middle" >1</text>
<text x="22.90" y="624.00" font-size="7.3" fill="#231f20" stroke="#231f20" stroke-width="0.16" textLength="18.10" lengthAdjust="spacingAndGlyphs" >CPFS:</text>
<text x="56.00" y="624.00" font-size="7.3" fill="#231f20" stroke="#231f20" stroke-width="0.16" text-anchor="middle" >24</text>
<text x="86.25" y="624.00" font-size="7.3" fill="#231f20" stroke="#231f20" stroke-width="0.16" text-anchor="middle" >18</text>
<text x="116.50" y="624.00" font-size="7.3" fill="#231f20" stroke="#231f20" stroke-width="0.16" text-anchor="middle" >18</text>
<text x="146.76" y="624.00" font-size="7.3" fill="#231f20" stroke="#231f20" stroke-width="0.16" text-anchor="middle" >17</text>
<text x="177.01" y="624.00" font-size="7.3" fill="#231f20" stroke="#231f20" stroke-width="0.16" text-anchor="middle" >9</text>
<text x="207.26" y="624.00" font-size="7.3" fill="#231f20" stroke="#231f20" stroke-width="0.16" text-anchor="middle" >1</text>
<text x="278.00" y="400.20" font-size="11.6" fill="#231f20" stroke="#231f20" stroke-width="0.05" textLength="8.00" lengthAdjust="spacingAndGlyphs" >D</text>
<path d="M325.60,409.6 L507.11,409.6 L507.11,549.60" fill="none" stroke="#231f20" stroke-width="1.1"/>
<path d="M325.60,410.60 L378.80,410.60 L378.80,428.40 L469.20,428.40" fill="none" stroke="#ad2a3c" stroke-width="1.25" stroke-linejoin="miter"/>
<line x1="387.10" y1="426.00" x2="387.10" y2="430.80" stroke="#ad2a3c" stroke-width="0.9" stroke-opacity="0.75"/>
<line x1="416.70" y1="426.00" x2="416.70" y2="430.80" stroke="#ad2a3c" stroke-width="0.9" stroke-opacity="0.75"/>
<line x1="435.30" y1="426.00" x2="435.30" y2="430.80" stroke="#ad2a3c" stroke-width="0.9" stroke-opacity="0.75"/>
<line x1="443.10" y1="426.00" x2="443.10" y2="430.80" stroke="#ad2a3c" stroke-width="0.9" stroke-opacity="0.75"/>
<line x1="448.50" y1="426.00" x2="448.50" y2="430.80" stroke="#ad2a3c" stroke-width="0.9" stroke-opacity="0.75"/>
<line x1="467.70" y1="426.00" x2="467.70" y2="430.80" stroke="#ad2a3c" stroke-width="0.9" stroke-opacity="0.75"/>
<path d="M325.60,410.60 L351.50,410.60 L351.50,421.50 L355.60,421.50 L355.60,432.30 L497.70,432.30" fill="none" stroke="#7ab463" stroke-width="1.25" stroke-linejoin="miter"/>
<line x1="418.70" y1="429.90" x2="418.70" y2="434.70" stroke="#7ab463" stroke-width="0.9" stroke-opacity="0.75"/>
<line x1="425.20" y1="429.90" x2="425.20" y2="434.70" stroke="#7ab463" stroke-width="0.9" stroke-opacity="0.75"/>
<line x1="443.50" y1="429.90" x2="443.50" y2="434.70" stroke="#7ab463" stroke-width="0.9" stroke-opacity="0.75"/>
<line x1="453.10" y1="429.90" x2="453.10" y2="434.70" stroke="#7ab463" stroke-width="0.9" stroke-opacity="0.75"/>
<line x1="455.80" y1="429.90" x2="455.80" y2="434.70" stroke="#7ab463" stroke-width="0.9" stroke-opacity="0.75"/>
<line x1="465.40" y1="429.90" x2="465.40" y2="434.70" stroke="#7ab463" stroke-width="0.9" stroke-opacity="0.75"/>
<line x1="475.10" y1="429.90" x2="475.10" y2="434.70" stroke="#7ab463" stroke-width="0.9" stroke-opacity="0.75"/>
<line x1="496.50" y1="429.90" x2="496.50" y2="434.70" stroke="#7ab463" stroke-width="0.9" stroke-opacity="0.75"/>
<path d="M325.60,409.1 L325.60,549.80 L507.61,549.80" fill="none" stroke="#3a3a3a" stroke-width="1.7"/>
<line x1="322.20" y1="549.60" x2="325.60" y2="549.60" stroke="#231f20" stroke-width="1.0" />
<text x="319.00" y="552.10" font-size="7.6" fill="#231f20" stroke="#231f20" stroke-width="0.15" text-anchor="end" textLength="9.80" lengthAdjust="spacingAndGlyphs" style="font-family:&quot;Liberation Serif&quot;,serif">0.0</text>
<line x1="322.20" y1="521.80" x2="325.60" y2="521.80" stroke="#231f20" stroke-width="1.0" />
<text x="319.00" y="524.30" font-size="7.6" fill="#231f20" stroke="#231f20" stroke-width="0.15" text-anchor="end" textLength="9.80" lengthAdjust="spacingAndGlyphs" style="font-family:&quot;Liberation Serif&quot;,serif">0.2</text>
<line x1="322.20" y1="494.00" x2="325.60" y2="494.00" stroke="#231f20" stroke-width="1.0" />
<text x="319.00" y="496.50" font-size="7.6" fill="#231f20" stroke="#231f20" stroke-width="0.15" text-anchor="end" textLength="9.80" lengthAdjust="spacingAndGlyphs" style="font-family:&quot;Liberation Serif&quot;,serif">0.4</text>
<line x1="322.20" y1="466.20" x2="325.60" y2="466.20" stroke="#231f20" stroke-width="1.0" />
<text x="319.00" y="468.70" font-size="7.6" fill="#231f20" stroke="#231f20" stroke-width="0.15" text-anchor="end" textLength="9.80" lengthAdjust="spacingAndGlyphs" style="font-family:&quot;Liberation Serif&quot;,serif">0.6</text>
<line x1="322.20" y1="438.40" x2="325.60" y2="438.40" stroke="#231f20" stroke-width="1.0" />
<text x="319.00" y="440.90" font-size="7.6" fill="#231f20" stroke="#231f20" stroke-width="0.15" text-anchor="end" textLength="9.80" lengthAdjust="spacingAndGlyphs" style="font-family:&quot;Liberation Serif&quot;,serif">0.8</text>
<line x1="322.20" y1="410.60" x2="325.60" y2="410.60" stroke="#231f20" stroke-width="1.0" />
<text x="319.00" y="413.10" font-size="7.6" fill="#231f20" stroke="#231f20" stroke-width="0.15" text-anchor="end" textLength="9.80" lengthAdjust="spacingAndGlyphs" style="font-family:&quot;Liberation Serif&quot;,serif">1.0</text>
<line x1="325.60" y1="549.60" x2="325.60" y2="552.80" stroke="#231f20" stroke-width="1.0" />
<text x="325.60" y="562.20" font-size="7.8" fill="#231f20" stroke="#231f20" stroke-width="0.16" text-anchor="middle" >0</text>
<line x1="355.85" y1="549.60" x2="355.85" y2="552.80" stroke="#231f20" stroke-width="1.0" />
<text x="355.85" y="562.20" font-size="7.8" fill="#231f20" stroke="#231f20" stroke-width="0.16" text-anchor="middle" >6</text>
<line x1="386.10" y1="549.60" x2="386.10" y2="552.80" stroke="#231f20" stroke-width="1.0" />
<text x="386.10" y="562.20" font-size="7.8" fill="#231f20" stroke="#231f20" stroke-width="0.16" text-anchor="middle" >12</text>
<line x1="416.36" y1="549.60" x2="416.36" y2="552.80" stroke="#231f20" stroke-width="1.0" />
<text x="416.36" y="562.20" font-size="7.8" fill="#231f20" stroke="#231f20" stroke-width="0.16" text-anchor="middle" >18</text>
<line x1="446.61" y1="549.60" x2="446.61" y2="552.80" stroke="#231f20" stroke-width="1.0" />
<text x="446.61" y="562.20" font-size="7.8" fill="#231f20" stroke="#231f20" stroke-width="0.16" text-anchor="middle" >24</text>
<line x1="476.86" y1="549.60" x2="476.86" y2="552.80" stroke="#231f20" stroke-width="1.0" />
<text x="476.86" y="562.20" font-size="7.8" fill="#231f20" stroke="#231f20" stroke-width="0.16" text-anchor="middle" >30</text>
<line x1="507.11" y1="549.60" x2="507.11" y2="552.80" stroke="#231f20" stroke-width="1.0" />
<text x="507.11" y="562.20" font-size="7.8" fill="#231f20" stroke="#231f20" stroke-width="0.16" text-anchor="middle" >36</text>
<text x="365.20" y="575.90" font-size="10.1" fill="#231f20" stroke="#231f20" stroke-width="0.12" textLength="101.80" lengthAdjust="spacingAndGlyphs" >Months from study entry</text>
<text x="0" y="0" font-size="10.0" fill="#231f20" textLength="44.2" lengthAdjust="spacingAndGlyphs" stroke="#231f20" stroke-width="0.12" transform="translate(301.70,501.8) rotate(-90)">Probability</text>
<line x1="332.80" y1="522.50" x2="348.10" y2="522.50" stroke="#7ab463" stroke-width="1.7" />
<text x="351.20" y="525.40" font-size="7.2" fill="#231f20" stroke="#231f20" stroke-width="0.16" textLength="4.60" lengthAdjust="spacingAndGlyphs" >R</text>
<line x1="332.80" y1="530.30" x2="348.10" y2="530.30" stroke="#ad2a3c" stroke-width="1.7" />
<text x="351.20" y="533.20" font-size="7.2" fill="#231f20" stroke="#231f20" stroke-width="0.16" textLength="10.00" lengthAdjust="spacingAndGlyphs" >NR</text>
<text x="278.00" y="587.60" font-size="7.2" fill="#231f20" stroke="#231f20" stroke-width="0.16" textLength="35.00" lengthAdjust="spacingAndGlyphs" >No. at Risk</text>
<text x="313.80" y="600.10" font-size="7.3" fill="#231f20" stroke="#231f20" stroke-width="0.16" text-anchor="end" >R:</text>
<text x="325.60" y="600.10" font-size="7.3" fill="#231f20" stroke="#231f20" stroke-width="0.16" text-anchor="middle" >11</text>
<text x="355.85" y="600.10" font-size="7.3" fill="#231f20" stroke="#231f20" stroke-width="0.16" text-anchor="middle" >11</text>
<text x="386.10" y="600.10" font-size="7.3" fill="#231f20" stroke="#231f20" stroke-width="0.16" text-anchor="middle" >11</text>
<text x="416.36" y="600.10" font-size="7.3" fill="#231f20" stroke="#231f20" stroke-width="0.16" text-anchor="middle" >6</text>
<text x="446.61" y="600.10" font-size="7.3" fill="#231f20" stroke="#231f20" stroke-width="0.16" text-anchor="middle" >1</text>
<text x="313.80" y="611.80" font-size="7.3" fill="#231f20" stroke="#231f20" stroke-width="0.16" text-anchor="end" >NR:</text>
<text x="325.60" y="611.80" font-size="7.3" fill="#231f20" stroke="#231f20" stroke-width="0.16" text-anchor="middle" >8</text>
<text x="355.85" y="611.80" font-size="7.3" fill="#231f20" stroke="#231f20" stroke-width="0.16" text-anchor="middle" >8</text>
<text x="386.10" y="611.80" font-size="7.3" fill="#231f20" stroke="#231f20" stroke-width="0.16" text-anchor="middle" >7</text>
<text x="416.36" y="611.80" font-size="7.3" fill="#231f20" stroke="#231f20" stroke-width="0.16" text-anchor="middle" >6</text>
<text x="446.61" y="611.80" font-size="7.3" fill="#231f20" stroke="#231f20" stroke-width="0.16" text-anchor="middle" >3</text>
<text x="476.86" y="611.80" font-size="7.3" fill="#231f20" stroke="#231f20" stroke-width="0.16" text-anchor="middle" >13</text>
<text x="351.20" y="543.40" font-size="7.4" fill="#231f20" stroke="#231f20" stroke-width="0.16" >p=0.81</text>
<rect x="0" y="0" width="520" height="1.1" fill="#4a4a4a"/>
<rect x="0" y="1.1" width="520" height="0.9" fill="#9a9a9a"/>
<rect x="0" y="0" width="1.1" height="633" fill="#4a4a4a"/>
<rect x="1.1" y="1.1" width="0.9" height="633" fill="#9a9a9a"/>
<rect x="519" y="0" width="1" height="633" fill="#111111"/>
<rect x="0" y="632" width="520" height="1" fill="#4a4a4a"/>
<rect x="0" y="631" width="519" height="1" fill="#cfcfcf"/>
</svg>
</body></html>
